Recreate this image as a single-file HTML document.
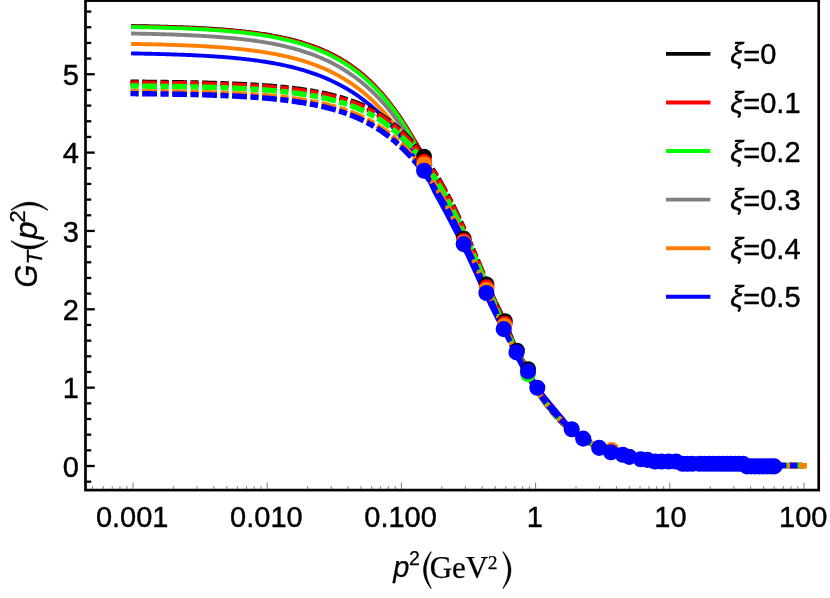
<!DOCTYPE html>
<html><head><meta charset="utf-8"><title>G_T(p^2)</title>
<style>html,body{margin:0;padding:0;background:#fff;width:830px;height:598px;overflow:hidden}</style>
</head><body>
<svg width="830" height="598" viewBox="0 0 830 598" style="display:block;position:absolute;left:0;top:0;will-change:transform">
<rect x="0" y="0" width="830" height="598" fill="#ffffff"/>
<g stroke="#444" stroke-width="0.7" fill="none">
<line x1="92.60" y1="488.80" x2="92.60" y2="486.20"/>
<line x1="103.23" y1="488.80" x2="103.23" y2="486.20"/>
<line x1="112.21" y1="488.80" x2="112.21" y2="486.20"/>
<line x1="119.99" y1="488.80" x2="119.99" y2="486.20"/>
<line x1="126.86" y1="488.80" x2="126.86" y2="486.20"/>
<line x1="133.00" y1="488.80" x2="133.00" y2="482.60"/>
<line x1="173.40" y1="488.80" x2="173.40" y2="486.20"/>
<line x1="197.03" y1="488.80" x2="197.03" y2="486.20"/>
<line x1="213.80" y1="488.80" x2="213.80" y2="486.20"/>
<line x1="226.80" y1="488.80" x2="226.80" y2="486.20"/>
<line x1="237.43" y1="488.80" x2="237.43" y2="486.20"/>
<line x1="246.41" y1="488.80" x2="246.41" y2="486.20"/>
<line x1="254.19" y1="488.80" x2="254.19" y2="486.20"/>
<line x1="261.06" y1="488.80" x2="261.06" y2="486.20"/>
<line x1="267.20" y1="488.80" x2="267.20" y2="482.60"/>
<line x1="307.60" y1="488.80" x2="307.60" y2="486.20"/>
<line x1="331.23" y1="488.80" x2="331.23" y2="486.20"/>
<line x1="348.00" y1="488.80" x2="348.00" y2="486.20"/>
<line x1="361.00" y1="488.80" x2="361.00" y2="486.20"/>
<line x1="371.63" y1="488.80" x2="371.63" y2="486.20"/>
<line x1="380.61" y1="488.80" x2="380.61" y2="486.20"/>
<line x1="388.39" y1="488.80" x2="388.39" y2="486.20"/>
<line x1="395.26" y1="488.80" x2="395.26" y2="486.20"/>
<line x1="401.40" y1="488.80" x2="401.40" y2="482.60"/>
<line x1="441.80" y1="488.80" x2="441.80" y2="486.20"/>
<line x1="465.43" y1="488.80" x2="465.43" y2="486.20"/>
<line x1="482.20" y1="488.80" x2="482.20" y2="486.20"/>
<line x1="495.20" y1="488.80" x2="495.20" y2="486.20"/>
<line x1="505.83" y1="488.80" x2="505.83" y2="486.20"/>
<line x1="514.81" y1="488.80" x2="514.81" y2="486.20"/>
<line x1="522.59" y1="488.80" x2="522.59" y2="486.20"/>
<line x1="529.46" y1="488.80" x2="529.46" y2="486.20"/>
<line x1="535.60" y1="488.80" x2="535.60" y2="482.60"/>
<line x1="576.00" y1="488.80" x2="576.00" y2="486.20"/>
<line x1="599.63" y1="488.80" x2="599.63" y2="486.20"/>
<line x1="616.40" y1="488.80" x2="616.40" y2="486.20"/>
<line x1="629.40" y1="488.80" x2="629.40" y2="486.20"/>
<line x1="640.03" y1="488.80" x2="640.03" y2="486.20"/>
<line x1="649.01" y1="488.80" x2="649.01" y2="486.20"/>
<line x1="656.79" y1="488.80" x2="656.79" y2="486.20"/>
<line x1="663.66" y1="488.80" x2="663.66" y2="486.20"/>
<line x1="669.80" y1="488.80" x2="669.80" y2="482.60"/>
<line x1="710.20" y1="488.80" x2="710.20" y2="486.20"/>
<line x1="733.83" y1="488.80" x2="733.83" y2="486.20"/>
<line x1="750.60" y1="488.80" x2="750.60" y2="486.20"/>
<line x1="763.60" y1="488.80" x2="763.60" y2="486.20"/>
<line x1="774.23" y1="488.80" x2="774.23" y2="486.20"/>
<line x1="783.21" y1="488.80" x2="783.21" y2="486.20"/>
<line x1="790.99" y1="488.80" x2="790.99" y2="486.20"/>
<line x1="797.86" y1="488.80" x2="797.86" y2="486.20"/>
<line x1="804.00" y1="488.80" x2="804.00" y2="482.60"/>
</g>
<g fill="none" stroke-width="3.9" stroke-linecap="square" stroke-linejoin="round">
<path d="M133.00,26.03 L134.50,26.05 L136.00,26.08 L137.50,26.10 L139.00,26.13 L140.50,26.16 L142.00,26.19 L143.50,26.21 L145.00,26.24 L146.50,26.27 L148.00,26.31 L149.50,26.34 L151.00,26.37 L152.50,26.41 L154.00,26.44 L155.50,26.48 L157.00,26.51 L158.50,26.55 L160.00,26.59 L161.50,26.63 L163.00,26.67 L164.50,26.71 L166.00,26.75 L167.50,26.80 L169.00,26.84 L170.50,26.89 L172.00,26.94 L173.50,26.98 L175.00,27.03 L176.50,27.08 L178.00,27.14 L179.50,27.19 L181.00,27.25 L182.50,27.30 L184.00,27.36 L185.50,27.42 L187.00,27.48 L188.50,27.55 L190.00,27.61 L191.50,27.68 L193.00,27.74 L194.50,27.81 L196.00,27.89 L197.50,27.96 L199.00,28.03 L200.50,28.11 L202.00,28.19 L203.50,28.27 L205.00,28.36 L206.50,28.44 L208.00,28.53 L209.50,28.62 L211.00,28.71 L212.50,28.81 L214.00,28.91 L215.50,29.01 L217.00,29.11 L218.50,29.21 L220.00,29.32 L221.50,29.43 L223.00,29.55 L224.50,29.66 L226.00,29.78 L227.50,29.91 L229.00,30.03 L230.50,30.16 L232.00,30.29 L233.50,30.43 L235.00,30.57 L236.50,30.71 L238.00,30.86 L239.50,31.01 L241.00,31.17 L242.50,31.33 L244.00,31.49 L245.50,31.66 L247.00,31.83 L248.50,32.01 L250.00,32.19 L251.50,32.37 L253.00,32.57 L254.50,32.76 L256.00,32.96 L257.50,33.17 L259.00,33.38 L260.50,33.60 L262.00,33.82 L263.50,34.05 L265.00,34.28 L266.50,34.52 L268.00,34.77 L269.50,35.03 L271.00,35.29 L272.50,35.55 L274.00,35.83 L275.50,36.11 L277.00,36.40 L278.50,36.69 L280.00,37.00 L281.50,37.31 L283.00,37.63 L284.50,37.96 L286.00,38.29 L287.50,38.64 L289.00,38.99 L290.50,39.36 L292.00,39.73 L293.50,40.12 L295.00,40.51 L296.50,40.91 L298.00,41.33 L299.50,41.75 L301.00,42.19 L302.50,42.64 L304.00,43.10 L305.50,43.57 L307.00,44.05 L308.50,44.55 L310.00,45.06 L311.50,45.58 L313.00,46.12 L314.50,46.67 L316.00,47.24 L317.50,47.82 L319.00,48.41 L320.50,49.02 L322.00,49.65 L323.50,50.29 L325.00,50.95 L326.50,51.63 L328.00,52.32 L329.50,53.03 L331.00,53.77 L332.50,54.52 L334.00,55.29 L335.50,56.07 L337.00,56.88 L338.50,57.72 L340.00,58.57 L341.50,59.44 L343.00,60.34 L344.50,61.26 L346.00,62.20 L347.50,63.17 L349.00,64.17 L350.50,65.18 L352.00,66.23 L353.50,67.30 L355.00,68.40 L356.50,69.52 L358.00,70.68 L359.50,71.86 L361.00,73.08 L362.50,74.32 L364.00,75.60 L365.50,76.91 L367.00,78.25 L368.50,79.62 L370.00,81.03 L371.50,82.47 L373.00,83.95 L374.50,85.46 L376.00,87.01 L377.50,88.60 L379.00,90.22 L380.50,91.89 L382.00,93.59 L383.50,95.33 L385.00,97.12 L386.50,98.94 L388.00,100.80 L389.50,102.71 L391.00,104.65 L392.50,106.64 L394.00,108.66 L395.50,110.73 L397.00,112.84 L398.50,114.99 L400.00,117.19 L401.50,119.42 L403.00,121.70 L404.50,124.02 L406.00,126.37 L407.50,128.76 L409.00,131.19 L410.50,133.66 L412.00,136.16 L413.50,138.68 L415.00,141.23 L416.50,143.80 L418.00,146.37 L419.50,148.95 L421.00,151.52 L422.50,154.04 L424.00,156.45 L425.50,159.55 L427.00,162.71 L428.50,165.87 L430.00,169.02 L431.50,172.16 L433.00,175.30 L434.50,178.43 L436.00,181.56 L437.50,184.68 L439.00,187.80 L440.50,190.91 L442.00,194.02 L443.50,197.12 L445.00,200.22 L446.50,203.32 L448.00,206.41 L449.50,209.49 L451.00,212.57 L452.50,215.65 L454.00,218.72 L455.50,221.79 L457.00,224.86 L458.50,227.92 L460.00,230.98 L461.50,234.03 L463.00,237.08 L464.50,240.12 L466.00,243.16 L467.50,246.18 L469.00,249.20 L470.50,252.21 L472.00,255.21 L473.50,258.20 L475.00,261.20 L476.50,264.18 L478.00,267.17 L479.50,270.16 L481.00,273.14 L482.50,276.13 L484.00,279.11 L485.50,282.10 L487.00,285.10 L488.50,288.06 L490.00,290.98 L491.50,293.89 L493.00,296.78 L494.50,299.67 L496.00,302.58 L497.50,305.51 L499.00,308.48 L500.50,311.50 L502.00,314.59 L503.50,317.75 L505.00,321.00 L506.50,324.44 L508.00,328.12 L509.50,331.93 L511.00,335.80 L512.50,339.63 L514.00,343.34 L515.50,346.82 L517.00,350.00 L518.50,352.85 L520.00,355.45 L521.50,357.90 L523.00,360.26 L524.50,362.62 L526.00,365.05 L527.50,367.62 L529.00,370.45 L530.50,373.59 L532.00,376.91 L533.50,380.26 L535.00,383.45 L536.50,386.34 L538.00,388.69 L539.50,390.76 L541.00,392.77 L542.50,394.73 L544.00,396.64 L545.50,398.52 L547.00,400.36 L548.50,402.18 L550.00,403.98 L551.50,405.76 L553.00,407.53 L554.50,409.29 L556.00,411.05 L557.50,412.80 L559.00,414.55 L560.50,416.30 L562.00,418.04 L563.50,419.79 L565.00,421.53 L566.50,423.26 L568.00,424.99 L569.50,426.70 L571.00,428.41 L572.50,429.95 L574.00,431.32 L575.50,432.63 L577.00,433.90 L578.50,435.12 L580.00,436.29 L581.50,437.40 L583.00,438.46 L584.50,439.48 L586.00,440.48 L587.50,441.45 L589.00,442.39 L590.50,443.30 L592.00,444.18 L593.50,445.03 L595.00,445.84 L596.50,446.61 L598.00,447.34 L599.50,448.03 L601.00,448.69 L602.50,449.32 L604.00,449.93 L605.50,450.50 L607.00,451.04 L608.50,451.55 L610.00,452.03 L611.50,452.47 L613.00,452.88 L614.50,453.26 L616.00,453.61 L617.50,453.95 L619.00,454.29 L620.50,454.63 L622.00,454.98 L623.50,455.35 L625.00,455.75 L626.50,456.17 L628.00,456.57 L629.50,456.95 L631.00,457.31 L632.50,457.67 L634.00,458.03 L635.50,458.36 L637.00,458.68 L638.50,458.96 L640.00,459.19 L641.50,459.38 L643.00,459.53 L644.50,459.67 L646.00,459.79 L647.50,459.91 L649.00,460.03 L650.50,460.15 L652.00,460.27 L653.50,460.39 L655.00,460.50 L656.50,460.61 L658.00,460.73 L659.50,460.84 L661.00,460.94 L662.50,461.05 L664.00,461.16 L665.50,461.27 L667.00,461.37 L668.50,461.48 L670.00,461.59 L671.50,461.70 L673.00,461.81 L674.50,461.92 L676.00,462.04 L677.50,462.16 L679.00,462.27 L680.50,462.39 L682.00,462.50 L683.50,462.62 L685.00,462.73 L686.50,462.83 L688.00,462.94 L689.50,463.04 L691.00,463.14 L692.50,463.23 L694.00,463.32 L695.50,463.40 L697.00,463.47 L698.50,463.54 L700.00,463.60 L701.50,463.65 L703.00,463.71 L704.50,463.75 L706.00,463.80 L707.50,463.85 L709.00,463.89 L710.50,463.93 L712.00,463.97 L713.50,464.00 L715.00,464.04 L716.50,464.07 L718.00,464.11 L719.50,464.14 L721.00,464.17 L722.50,464.20 L724.00,464.23 L725.50,464.27 L727.00,464.30 L728.50,464.33 L730.00,464.36 L731.50,464.39 L733.00,464.43 L734.50,464.46 L736.00,464.50 L737.50,464.53 L739.00,464.57 L740.50,464.61 L742.00,464.66 L743.50,464.70 L745.00,464.75 L746.50,464.80 L748.00,464.85 L749.50,464.90 L751.00,464.95 L752.50,465.00 L754.00,465.06 L755.50,465.11 L757.00,465.16 L758.50,465.21 L760.00,465.26 L761.50,465.31 L763.00,465.36 L764.50,465.40 L766.00,465.44 L767.50,465.48 L769.00,465.51 L770.50,465.54 L772.00,465.57 L773.50,465.59 L775.00,465.61 L776.50,465.63 L778.00,465.65 L779.50,465.67 L781.00,465.69 L782.50,465.70 L784.00,465.72 L785.50,465.74 L787.00,465.75 L788.50,465.77 L790.00,465.78 L791.50,465.80 L793.00,465.81 L794.50,465.82 L796.00,465.83 L797.50,465.85 L799.00,465.86 L800.50,465.86 L802.00,465.87 L803.50,465.88 L804.00,465.88" stroke="#000000"/>
<path d="M133.00,26.54 L134.50,26.57 L136.00,26.59 L137.50,26.62 L139.00,26.65 L140.50,26.67 L142.00,26.70 L143.50,26.73 L145.00,26.76 L146.50,26.79 L148.00,26.82 L149.50,26.85 L151.00,26.89 L152.50,26.92 L154.00,26.95 L155.50,26.99 L157.00,27.03 L158.50,27.06 L160.00,27.10 L161.50,27.14 L163.00,27.18 L164.50,27.22 L166.00,27.27 L167.50,27.31 L169.00,27.35 L170.50,27.40 L172.00,27.45 L173.50,27.50 L175.00,27.55 L176.50,27.60 L178.00,27.65 L179.50,27.70 L181.00,27.76 L182.50,27.81 L184.00,27.87 L185.50,27.93 L187.00,27.99 L188.50,28.06 L190.00,28.12 L191.50,28.19 L193.00,28.25 L194.50,28.32 L196.00,28.39 L197.50,28.47 L199.00,28.54 L200.50,28.62 L202.00,28.70 L203.50,28.78 L205.00,28.86 L206.50,28.95 L208.00,29.03 L209.50,29.12 L211.00,29.22 L212.50,29.31 L214.00,29.41 L215.50,29.51 L217.00,29.61 L218.50,29.71 L220.00,29.82 L221.50,29.93 L223.00,30.04 L224.50,30.16 L226.00,30.28 L227.50,30.40 L229.00,30.53 L230.50,30.66 L232.00,30.79 L233.50,30.92 L235.00,31.06 L236.50,31.21 L238.00,31.35 L239.50,31.50 L241.00,31.66 L242.50,31.81 L244.00,31.98 L245.50,32.14 L247.00,32.31 L248.50,32.49 L250.00,32.67 L251.50,32.85 L253.00,33.04 L254.50,33.24 L256.00,33.44 L257.50,33.64 L259.00,33.85 L260.50,34.07 L262.00,34.29 L263.50,34.51 L265.00,34.75 L266.50,34.98 L268.00,35.23 L269.50,35.48 L271.00,35.74 L272.50,36.00 L274.00,36.28 L275.50,36.56 L277.00,36.85 L278.50,37.14 L280.00,37.45 L281.50,37.76 L283.00,38.08 L284.50,38.41 L286.00,38.74 L287.50,39.09 L289.00,39.44 L290.50,39.81 L292.00,40.18 L293.50,40.57 L295.00,40.96 L296.50,41.36 L298.00,41.78 L299.50,42.20 L301.00,42.64 L302.50,43.09 L304.00,43.55 L305.50,44.02 L307.00,44.50 L308.50,45.00 L310.00,45.51 L311.50,46.03 L313.00,46.57 L314.50,47.12 L316.00,47.69 L317.50,48.27 L319.00,48.86 L320.50,49.47 L322.00,50.10 L323.50,50.74 L325.00,51.40 L326.50,52.08 L328.00,52.77 L329.50,53.48 L331.00,54.22 L332.50,54.97 L334.00,55.74 L335.50,56.52 L337.00,57.33 L338.50,58.17 L340.00,59.02 L341.50,59.89 L343.00,60.79 L344.50,61.71 L346.00,62.65 L347.50,63.62 L349.00,64.62 L350.50,65.63 L352.00,66.68 L353.50,67.75 L355.00,68.85 L356.50,69.97 L358.00,71.13 L359.50,72.31 L361.00,73.53 L362.50,74.77 L364.00,76.05 L365.50,77.36 L367.00,78.70 L368.50,80.07 L370.00,81.48 L371.50,82.92 L373.00,84.40 L374.50,85.91 L376.00,87.46 L377.50,89.05 L379.00,90.67 L380.50,92.34 L382.00,94.04 L383.50,95.78 L385.00,97.57 L386.50,99.39 L388.00,101.25 L389.50,103.16 L391.00,105.10 L392.50,107.09 L394.00,109.11 L395.50,111.18 L397.00,113.29 L398.50,115.44 L400.00,117.64 L401.50,119.87 L403.00,122.15 L404.50,124.47 L406.00,126.82 L407.50,129.21 L409.00,131.64 L410.50,134.11 L412.00,136.61 L413.50,139.13 L415.00,141.68 L416.50,144.25 L418.00,146.82 L419.50,149.40 L421.00,151.97 L422.50,154.68 L424.00,157.60 L425.50,160.71 L427.00,163.85 L428.50,167.01 L430.00,170.16 L431.50,173.32 L433.00,176.46 L434.50,179.59 L436.00,182.69 L437.50,185.77 L439.00,188.86 L440.50,191.94 L442.00,195.02 L443.50,198.10 L445.00,201.17 L446.50,204.24 L448.00,207.31 L449.50,210.37 L451.00,213.44 L452.50,216.50 L454.00,219.56 L455.50,222.61 L457.00,225.67 L458.50,228.72 L460.00,231.77 L461.50,234.82 L463.00,237.86 L464.50,240.90 L466.00,243.94 L467.50,246.98 L469.00,250.00 L470.50,253.03 L472.00,256.05 L473.50,259.07 L475.00,262.09 L476.50,265.11 L478.00,268.12 L479.50,271.13 L481.00,274.14 L482.50,277.15 L484.00,280.16 L485.50,283.17 L487.00,286.18 L488.50,289.16 L490.00,292.10 L491.50,295.01 L493.00,297.92 L494.50,300.82 L496.00,303.72 L497.50,306.65 L499.00,309.62 L500.50,312.62 L502.00,315.68 L503.50,318.80 L505.00,322.00 L506.50,325.37 L508.00,328.95 L509.50,332.67 L511.00,336.43 L512.50,340.15 L514.00,343.79 L515.50,347.27 L517.00,350.45 L518.50,353.30 L520.00,355.90 L521.50,358.35 L523.00,360.71 L524.50,363.07 L526.00,365.50 L527.50,368.07 L529.00,370.90 L530.50,374.04 L532.00,377.36 L533.50,380.71 L535.00,383.90 L536.50,386.79 L538.00,389.14 L539.50,391.21 L541.00,393.22 L542.50,395.18 L544.00,397.09 L545.50,398.97 L547.00,400.81 L548.50,402.63 L550.00,404.43 L551.50,406.21 L553.00,407.98 L554.50,409.74 L556.00,411.50 L557.50,413.25 L559.00,415.00 L560.50,416.75 L562.00,418.49 L563.50,420.24 L565.00,421.98 L566.50,423.71 L568.00,425.44 L569.50,427.15 L571.00,428.86 L572.50,430.40 L574.00,431.77 L575.50,433.08 L577.00,434.35 L578.50,435.57 L580.00,436.74 L581.50,437.85 L583.00,438.91 L584.50,439.93 L586.00,440.93 L587.50,441.90 L589.00,442.84 L590.50,443.75 L592.00,444.63 L593.50,445.48 L595.00,446.29 L596.50,447.06 L598.00,447.79 L599.50,448.48 L601.00,449.14 L602.50,449.77 L604.00,450.38 L605.50,450.95 L607.00,451.49 L608.50,452.00 L610.00,452.48 L611.50,452.92 L613.00,453.33 L614.50,453.71 L616.00,454.06 L617.50,454.40 L619.00,454.74 L620.50,455.08 L622.00,455.43 L623.50,455.80 L625.00,456.20 L626.50,456.62 L628.00,457.02 L629.50,457.40 L631.00,457.76 L632.50,458.12 L634.00,458.48 L635.50,458.81 L637.00,459.13 L638.50,459.41 L640.00,459.64 L641.50,459.83 L643.00,459.98 L644.50,460.12 L646.00,460.24 L647.50,460.36 L649.00,460.48 L650.50,460.60 L652.00,460.72 L653.50,460.84 L655.00,460.95 L656.50,461.06 L658.00,461.18 L659.50,461.29 L661.00,461.39 L662.50,461.50 L664.00,461.61 L665.50,461.72 L667.00,461.82 L668.50,461.93 L670.00,462.04 L671.50,462.15 L673.00,462.26 L674.50,462.37 L676.00,462.49 L677.50,462.61 L679.00,462.72 L680.50,462.84 L682.00,462.95 L683.50,463.07 L685.00,463.18 L686.50,463.28 L688.00,463.39 L689.50,463.49 L691.00,463.59 L692.50,463.68 L694.00,463.77 L695.50,463.85 L697.00,463.92 L698.50,463.99 L700.00,464.05 L701.50,464.10 L703.00,464.16 L704.50,464.20 L706.00,464.25 L707.50,464.30 L709.00,464.34 L710.50,464.38 L712.00,464.42 L713.50,464.45 L715.00,464.49 L716.50,464.52 L718.00,464.56 L719.50,464.59 L721.00,464.62 L722.50,464.65 L724.00,464.68 L725.50,464.72 L727.00,464.75 L728.50,464.78 L730.00,464.81 L731.50,464.84 L733.00,464.88 L734.50,464.91 L736.00,464.95 L737.50,464.98 L739.00,465.02 L740.50,465.06 L742.00,465.11 L743.50,465.15 L745.00,465.20 L746.50,465.25 L748.00,465.30 L749.50,465.35 L751.00,465.40 L752.50,465.45 L754.00,465.51 L755.50,465.56 L757.00,465.61 L758.50,465.66 L760.00,465.71 L761.50,465.76 L763.00,465.81 L764.50,465.85 L766.00,465.89 L767.50,465.93 L769.00,465.96 L770.50,465.99 L772.00,466.02 L773.50,466.04 L775.00,466.06 L776.50,466.08 L778.00,466.10 L779.50,466.12 L781.00,466.14 L782.50,466.15 L784.00,466.17 L785.50,466.19 L787.00,466.20 L788.50,466.22 L790.00,466.23 L791.50,466.25 L793.00,466.26 L794.50,466.27 L796.00,466.28 L797.50,466.30 L799.00,466.31 L800.50,466.31 L802.00,466.32 L803.50,466.33 L804.00,466.33" stroke="#ff0000"/>
<path d="M133.00,27.05 L134.50,27.07 L136.00,27.10 L137.50,27.13 L139.00,27.15 L140.50,27.18 L142.00,27.21 L143.50,27.24 L145.00,27.27 L146.50,27.31 L148.00,27.34 L149.50,27.37 L151.00,27.41 L152.50,27.44 L154.00,27.48 L155.50,27.52 L157.00,27.55 L158.50,27.59 L160.00,27.63 L161.50,27.67 L163.00,27.72 L164.50,27.76 L166.00,27.80 L167.50,27.85 L169.00,27.90 L170.50,27.94 L172.00,27.99 L173.50,28.04 L175.00,28.10 L176.50,28.15 L178.00,28.20 L179.50,28.26 L181.00,28.32 L182.50,28.38 L184.00,28.44 L185.50,28.50 L187.00,28.56 L188.50,28.63 L190.00,28.69 L191.50,28.76 L193.00,28.83 L194.50,28.91 L196.00,28.98 L197.50,29.06 L199.00,29.14 L200.50,29.22 L202.00,29.30 L203.50,29.38 L205.00,29.47 L206.50,29.56 L208.00,29.65 L209.50,29.74 L211.00,29.84 L212.50,29.94 L214.00,30.04 L215.50,30.14 L217.00,30.25 L218.50,30.36 L220.00,30.47 L221.50,30.59 L223.00,30.71 L224.50,30.83 L226.00,30.95 L227.50,31.08 L229.00,31.21 L230.50,31.34 L232.00,31.48 L233.50,31.62 L235.00,31.77 L236.50,31.92 L238.00,32.07 L239.50,32.23 L241.00,32.39 L242.50,32.55 L244.00,32.72 L245.50,32.90 L247.00,33.07 L248.50,33.26 L250.00,33.44 L251.50,33.64 L253.00,33.83 L254.50,34.04 L256.00,34.24 L257.50,34.46 L259.00,34.68 L260.50,34.90 L262.00,35.13 L263.50,35.37 L265.00,35.61 L266.50,35.86 L268.00,36.11 L269.50,36.38 L271.00,36.64 L272.50,36.92 L274.00,37.20 L275.50,37.49 L277.00,37.79 L278.50,38.10 L280.00,38.41 L281.50,38.73 L283.00,39.06 L284.50,39.40 L286.00,39.75 L287.50,40.10 L289.00,40.47 L290.50,40.84 L292.00,41.23 L293.50,41.62 L295.00,42.02 L296.50,42.44 L298.00,42.86 L299.50,43.30 L301.00,43.75 L302.50,44.21 L304.00,44.68 L305.50,45.16 L307.00,45.66 L308.50,46.17 L310.00,46.69 L311.50,47.22 L313.00,47.77 L314.50,48.34 L316.00,48.91 L317.50,49.51 L319.00,50.11 L320.50,50.74 L322.00,51.37 L323.50,52.03 L325.00,52.70 L326.50,53.39 L328.00,54.10 L329.50,54.82 L331.00,55.56 L332.50,56.33 L334.00,57.11 L335.50,57.91 L337.00,58.73 L338.50,59.57 L340.00,60.43 L341.50,61.32 L343.00,62.22 L344.50,63.15 L346.00,64.11 L347.50,65.08 L349.00,66.08 L350.50,67.11 L352.00,68.16 L353.50,69.24 L355.00,70.34 L356.50,71.47 L358.00,72.63 L359.50,73.82 L361.00,75.03 L362.50,76.28 L364.00,77.55 L365.50,78.86 L367.00,80.19 L368.50,81.56 L370.00,82.97 L371.50,84.40 L373.00,85.87 L374.50,87.37 L376.00,88.91 L377.50,90.48 L379.00,92.09 L380.50,93.74 L382.00,95.42 L383.50,97.14 L385.00,98.90 L386.50,100.70 L388.00,102.55 L389.50,104.44 L391.00,106.39 L392.50,108.38 L394.00,110.42 L395.50,112.51 L397.00,114.64 L398.50,116.83 L400.00,119.07 L401.50,121.35 L403.00,123.69 L404.50,126.07 L406.00,128.50 L407.50,130.98 L409.00,133.51 L410.50,136.08 L412.00,138.70 L413.50,141.36 L415.00,144.07 L416.50,146.82 L418.00,149.60 L419.50,152.43 L421.00,155.29 L422.50,158.18 L424.00,161.10 L425.50,164.10 L427.00,167.18 L428.50,170.33 L430.00,173.51 L431.50,176.69 L433.00,179.85 L434.50,182.96 L436.00,185.99 L437.50,188.97 L439.00,191.95 L440.50,194.94 L442.00,197.93 L443.50,200.93 L445.00,203.93 L446.50,206.93 L448.00,209.94 L449.50,212.95 L451.00,215.96 L452.50,218.97 L454.00,221.99 L455.50,225.01 L457.00,228.03 L458.50,231.06 L460.00,234.09 L461.50,237.12 L463.00,240.15 L464.50,243.18 L466.00,246.23 L467.50,249.29 L469.00,252.36 L470.50,255.44 L472.00,258.52 L473.50,261.61 L475.00,264.70 L476.50,267.79 L478.00,270.89 L479.50,273.98 L481.00,277.07 L482.50,280.15 L484.00,283.23 L485.50,286.29 L487.00,289.35 L488.50,292.37 L490.00,295.35 L491.50,298.30 L493.00,301.24 L494.50,304.16 L496.00,307.08 L497.50,310.00 L499.00,312.93 L500.50,315.87 L502.00,318.85 L503.50,321.85 L505.00,324.90 L506.50,328.07 L508.00,331.39 L509.50,334.80 L511.00,338.24 L512.50,341.66 L514.00,344.99 L515.50,348.17 L517.00,351.15 L518.50,353.88 L520.00,356.43 L521.50,358.85 L523.00,361.21 L524.50,363.58 L526.00,366.00 L527.50,368.55 L529.00,371.29 L530.50,374.30 L532.00,377.45 L533.50,380.60 L535.00,383.63 L536.50,386.38 L538.00,388.66 L539.50,390.68 L541.00,392.65 L542.50,394.58 L544.00,396.47 L545.50,398.33 L547.00,400.17 L548.50,401.98 L550.00,403.78 L551.50,405.57 L553.00,407.35 L554.50,409.12 L556.00,410.89 L557.50,412.66 L559.00,414.43 L560.50,416.20 L562.00,417.97 L563.50,419.73 L565.00,421.48 L566.50,423.23 L568.00,424.97 L569.50,426.70 L571.00,428.41 L572.50,429.95 L574.00,431.32 L575.50,432.63 L577.00,433.90 L578.50,435.12 L580.00,436.29 L581.50,437.40 L583.00,438.46 L584.50,439.48 L586.00,440.48 L587.50,441.45 L589.00,442.39 L590.50,443.30 L592.00,444.18 L593.50,445.03 L595.00,445.84 L596.50,446.61 L598.00,447.34 L599.50,448.03 L601.00,448.69 L602.50,449.32 L604.00,449.93 L605.50,450.50 L607.00,451.04 L608.50,451.55 L610.00,452.03 L611.50,452.47 L613.00,452.88 L614.50,453.26 L616.00,453.61 L617.50,453.95 L619.00,454.29 L620.50,454.63 L622.00,454.98 L623.50,455.35 L625.00,455.75 L626.50,456.17 L628.00,456.57 L629.50,456.95 L631.00,457.31 L632.50,457.67 L634.00,458.03 L635.50,458.36 L637.00,458.68 L638.50,458.96 L640.00,459.19 L641.50,459.38 L643.00,459.53 L644.50,459.67 L646.00,459.79 L647.50,459.91 L649.00,460.03 L650.50,460.15 L652.00,460.27 L653.50,460.39 L655.00,460.50 L656.50,460.61 L658.00,460.73 L659.50,460.84 L661.00,460.94 L662.50,461.05 L664.00,461.16 L665.50,461.27 L667.00,461.37 L668.50,461.48 L670.00,461.59 L671.50,461.70 L673.00,461.81 L674.50,461.92 L676.00,462.04 L677.50,462.16 L679.00,462.27 L680.50,462.39 L682.00,462.50 L683.50,462.62 L685.00,462.73 L686.50,462.83 L688.00,462.94 L689.50,463.04 L691.00,463.14 L692.50,463.23 L694.00,463.32 L695.50,463.40 L697.00,463.47 L698.50,463.54 L700.00,463.60 L701.50,463.65 L703.00,463.71 L704.50,463.75 L706.00,463.80 L707.50,463.85 L709.00,463.89 L710.50,463.93 L712.00,463.97 L713.50,464.00 L715.00,464.04 L716.50,464.07 L718.00,464.11 L719.50,464.14 L721.00,464.17 L722.50,464.20 L724.00,464.23 L725.50,464.27 L727.00,464.30 L728.50,464.33 L730.00,464.36 L731.50,464.39 L733.00,464.43 L734.50,464.46 L736.00,464.50 L737.50,464.53 L739.00,464.57 L740.50,464.61 L742.00,464.66 L743.50,464.70 L745.00,464.75 L746.50,464.80 L748.00,464.85 L749.50,464.90 L751.00,464.95 L752.50,465.00 L754.00,465.06 L755.50,465.11 L757.00,465.16 L758.50,465.21 L760.00,465.26 L761.50,465.31 L763.00,465.36 L764.50,465.40 L766.00,465.44 L767.50,465.48 L769.00,465.51 L770.50,465.54 L772.00,465.57 L773.50,465.59 L775.00,465.61 L776.50,465.63 L778.00,465.65 L779.50,465.67 L781.00,465.69 L782.50,465.70 L784.00,465.72 L785.50,465.74 L787.00,465.75 L788.50,465.77 L790.00,465.78 L791.50,465.80 L793.00,465.81 L794.50,465.82 L796.00,465.83 L797.50,465.85 L799.00,465.86 L800.50,465.86 L802.00,465.87 L803.50,465.88 L804.00,465.88" stroke="#00ff00"/>
<path d="M133.00,33.55 L134.50,33.57 L136.00,33.60 L137.50,33.63 L139.00,33.66 L140.50,33.69 L142.00,33.72 L143.50,33.75 L145.00,33.78 L146.50,33.81 L148.00,33.85 L149.50,33.88 L151.00,33.92 L152.50,33.95 L154.00,33.99 L155.50,34.03 L157.00,34.07 L158.50,34.11 L160.00,34.15 L161.50,34.19 L163.00,34.24 L164.50,34.28 L166.00,34.33 L167.50,34.37 L169.00,34.42 L170.50,34.47 L172.00,34.52 L173.50,34.57 L175.00,34.63 L176.50,34.68 L178.00,34.74 L179.50,34.80 L181.00,34.86 L182.50,34.92 L184.00,34.98 L185.50,35.04 L187.00,35.11 L188.50,35.18 L190.00,35.25 L191.50,35.32 L193.00,35.39 L194.50,35.46 L196.00,35.54 L197.50,35.62 L199.00,35.70 L200.50,35.78 L202.00,35.87 L203.50,35.95 L205.00,36.04 L206.50,36.14 L208.00,36.23 L209.50,36.33 L211.00,36.43 L212.50,36.53 L214.00,36.63 L215.50,36.74 L217.00,36.85 L218.50,36.96 L220.00,37.08 L221.50,37.19 L223.00,37.32 L224.50,37.44 L226.00,37.57 L227.50,37.70 L229.00,37.83 L230.50,37.97 L232.00,38.11 L233.50,38.26 L235.00,38.41 L236.50,38.56 L238.00,38.72 L239.50,38.88 L241.00,39.04 L242.50,39.21 L244.00,39.39 L245.50,39.56 L247.00,39.75 L248.50,39.94 L250.00,40.13 L251.50,40.32 L253.00,40.53 L254.50,40.73 L256.00,40.95 L257.50,41.17 L259.00,41.39 L260.50,41.62 L262.00,41.86 L263.50,42.10 L265.00,42.35 L266.50,42.60 L268.00,42.86 L269.50,43.13 L271.00,43.40 L272.50,43.68 L274.00,43.97 L275.50,44.27 L277.00,44.57 L278.50,44.88 L280.00,45.20 L281.50,45.53 L283.00,45.87 L284.50,46.21 L286.00,46.56 L287.50,46.93 L289.00,47.30 L290.50,47.68 L292.00,48.07 L293.50,48.47 L295.00,48.88 L296.50,49.30 L298.00,49.73 L299.50,50.18 L301.00,50.63 L302.50,51.10 L304.00,51.57 L305.50,52.06 L307.00,52.56 L308.50,53.08 L310.00,53.61 L311.50,54.15 L313.00,54.70 L314.50,55.27 L316.00,55.85 L317.50,56.45 L319.00,57.06 L320.50,57.68 L322.00,58.33 L323.50,58.99 L325.00,59.66 L326.50,60.35 L328.00,61.06 L329.50,61.79 L331.00,62.53 L332.50,63.29 L334.00,64.07 L335.50,64.87 L337.00,65.69 L338.50,66.53 L340.00,67.39 L341.50,68.27 L343.00,69.18 L344.50,70.10 L346.00,71.05 L347.50,72.01 L349.00,73.01 L350.50,74.02 L352.00,75.06 L353.50,76.13 L355.00,77.22 L356.50,78.33 L358.00,79.47 L359.50,80.64 L361.00,81.83 L362.50,83.06 L364.00,84.31 L365.50,85.59 L367.00,86.90 L368.50,88.23 L370.00,89.60 L371.50,91.00 L373.00,92.43 L374.50,93.89 L376.00,95.39 L377.50,96.91 L379.00,98.47 L380.50,100.07 L382.00,101.69 L383.50,103.36 L385.00,105.05 L386.50,106.79 L388.00,108.58 L389.50,110.41 L391.00,112.29 L392.50,114.23 L394.00,116.21 L395.50,118.25 L397.00,120.33 L398.50,122.46 L400.00,124.65 L401.50,126.88 L403.00,129.17 L404.50,131.50 L406.00,133.89 L407.50,136.32 L409.00,138.81 L410.50,141.34 L412.00,143.93 L413.50,146.56 L415.00,149.24 L416.50,151.96 L418.00,154.74 L419.50,157.55 L421.00,160.42 L422.50,163.32 L424.00,166.27 L425.50,169.10 L427.00,172.11 L428.50,175.24 L430.00,178.46 L431.50,181.69 L433.00,184.87 L434.50,187.95 L436.00,190.87 L437.50,193.69 L439.00,196.53 L440.50,199.38 L442.00,202.25 L443.50,205.12 L445.00,208.01 L446.50,210.92 L448.00,213.83 L449.50,216.75 L451.00,219.69 L452.50,222.63 L454.00,225.59 L455.50,228.56 L457.00,231.53 L458.50,234.52 L460.00,237.52 L461.50,240.52 L463.00,243.53 L464.50,246.56 L466.00,249.62 L467.50,252.72 L469.00,255.84 L470.50,259.00 L472.00,262.17 L473.50,265.36 L475.00,268.56 L476.50,271.77 L478.00,274.99 L479.50,278.19 L481.00,281.40 L482.50,284.59 L484.00,287.76 L485.50,290.91 L487.00,294.03 L488.50,297.11 L490.00,300.16 L491.50,303.17 L493.00,306.15 L494.50,309.11 L496.00,312.04 L497.50,314.94 L499.00,317.82 L500.50,320.69 L502.00,323.54 L503.50,326.37 L505.00,329.20 L506.50,332.07 L508.00,335.00 L509.50,337.96 L511.00,340.93 L512.50,343.89 L514.00,346.80 L515.50,349.66 L517.00,352.42 L518.50,355.02 L520.00,357.50 L521.50,359.90 L523.00,362.27 L524.50,364.64 L526.00,367.05 L527.50,369.56 L529.00,372.23 L530.50,375.08 L532.00,378.04 L533.50,380.98 L535.00,383.82 L536.50,386.43 L538.00,388.63 L539.50,390.60 L541.00,392.53 L542.50,394.42 L544.00,396.28 L545.50,398.13 L547.00,399.95 L548.50,401.76 L550.00,403.56 L551.50,405.36 L553.00,407.15 L554.50,408.94 L556.00,410.73 L557.50,412.52 L559.00,414.31 L560.50,416.09 L562.00,417.88 L563.50,419.66 L565.00,421.44 L566.50,423.21 L568.00,424.96 L569.50,426.69 L571.00,428.41 L572.50,429.95 L574.00,431.32 L575.50,432.63 L577.00,433.90 L578.50,435.12 L580.00,436.29 L581.50,437.40 L583.00,438.46 L584.50,439.48 L586.00,440.48 L587.50,441.45 L589.00,442.39 L590.50,443.30 L592.00,444.18 L593.50,445.03 L595.00,445.84 L596.50,446.61 L598.00,447.34 L599.50,448.03 L601.00,448.69 L602.50,449.32 L604.00,449.93 L605.50,450.50 L607.00,451.04 L608.50,451.55 L610.00,452.03 L611.50,452.47 L613.00,452.88 L614.50,453.26 L616.00,453.61 L617.50,453.95 L619.00,454.29 L620.50,454.63 L622.00,454.98 L623.50,455.35 L625.00,455.75 L626.50,456.17 L628.00,456.57 L629.50,456.95 L631.00,457.31 L632.50,457.67 L634.00,458.03 L635.50,458.36 L637.00,458.68 L638.50,458.96 L640.00,459.19 L641.50,459.38 L643.00,459.53 L644.50,459.67 L646.00,459.79 L647.50,459.91 L649.00,460.03 L650.50,460.15 L652.00,460.27 L653.50,460.39 L655.00,460.50 L656.50,460.61 L658.00,460.73 L659.50,460.84 L661.00,460.94 L662.50,461.05 L664.00,461.16 L665.50,461.27 L667.00,461.37 L668.50,461.48 L670.00,461.59 L671.50,461.70 L673.00,461.81 L674.50,461.92 L676.00,462.04 L677.50,462.16 L679.00,462.27 L680.50,462.39 L682.00,462.50 L683.50,462.62 L685.00,462.73 L686.50,462.83 L688.00,462.94 L689.50,463.04 L691.00,463.14 L692.50,463.23 L694.00,463.32 L695.50,463.40 L697.00,463.47 L698.50,463.54 L700.00,463.60 L701.50,463.65 L703.00,463.71 L704.50,463.75 L706.00,463.80 L707.50,463.85 L709.00,463.89 L710.50,463.93 L712.00,463.97 L713.50,464.00 L715.00,464.04 L716.50,464.07 L718.00,464.11 L719.50,464.14 L721.00,464.17 L722.50,464.20 L724.00,464.23 L725.50,464.27 L727.00,464.30 L728.50,464.33 L730.00,464.36 L731.50,464.39 L733.00,464.43 L734.50,464.46 L736.00,464.50 L737.50,464.53 L739.00,464.57 L740.50,464.61 L742.00,464.66 L743.50,464.70 L745.00,464.75 L746.50,464.80 L748.00,464.85 L749.50,464.90 L751.00,464.95 L752.50,465.00 L754.00,465.06 L755.50,465.11 L757.00,465.16 L758.50,465.21 L760.00,465.26 L761.50,465.31 L763.00,465.36 L764.50,465.40 L766.00,465.44 L767.50,465.48 L769.00,465.51 L770.50,465.54 L772.00,465.57 L773.50,465.59 L775.00,465.61 L776.50,465.63 L778.00,465.65 L779.50,465.67 L781.00,465.69 L782.50,465.70 L784.00,465.72 L785.50,465.74 L787.00,465.75 L788.50,465.77 L790.00,465.78 L791.50,465.80 L793.00,465.81 L794.50,465.82 L796.00,465.83 L797.50,465.85 L799.00,465.86 L800.50,465.86 L802.00,465.87 L803.50,465.88 L804.00,465.88" stroke="#808080"/>
<path d="M133.00,43.95 L134.50,43.98 L136.00,44.01 L137.50,44.03 L139.00,44.06 L140.50,44.09 L142.00,44.12 L143.50,44.15 L145.00,44.18 L146.50,44.21 L148.00,44.24 L149.50,44.27 L151.00,44.31 L152.50,44.34 L154.00,44.38 L155.50,44.41 L157.00,44.45 L158.50,44.49 L160.00,44.53 L161.50,44.57 L163.00,44.61 L164.50,44.65 L166.00,44.69 L167.50,44.74 L169.00,44.78 L170.50,44.83 L172.00,44.88 L173.50,44.93 L175.00,44.98 L176.50,45.03 L178.00,45.09 L179.50,45.14 L181.00,45.20 L182.50,45.25 L184.00,45.31 L185.50,45.37 L187.00,45.44 L188.50,45.50 L190.00,45.57 L191.50,45.63 L193.00,45.70 L194.50,45.77 L196.00,45.85 L197.50,45.92 L199.00,46.00 L200.50,46.08 L202.00,46.16 L203.50,46.24 L205.00,46.32 L206.50,46.41 L208.00,46.50 L209.50,46.59 L211.00,46.69 L212.50,46.78 L214.00,46.88 L215.50,46.98 L217.00,47.09 L218.50,47.19 L220.00,47.30 L221.50,47.42 L223.00,47.53 L224.50,47.65 L226.00,47.77 L227.50,47.90 L229.00,48.03 L230.50,48.16 L232.00,48.29 L233.50,48.43 L235.00,48.57 L236.50,48.72 L238.00,48.87 L239.50,49.02 L241.00,49.18 L242.50,49.34 L244.00,49.50 L245.50,49.67 L247.00,49.85 L248.50,50.03 L250.00,50.21 L251.50,50.40 L253.00,50.59 L254.50,50.79 L256.00,50.99 L257.50,51.20 L259.00,51.41 L260.50,51.63 L262.00,51.86 L263.50,52.09 L265.00,52.32 L266.50,52.57 L268.00,52.82 L269.50,53.07 L271.00,53.33 L272.50,53.60 L274.00,53.88 L275.50,54.16 L277.00,54.45 L278.50,54.75 L280.00,55.06 L281.50,55.37 L283.00,55.69 L284.50,56.02 L286.00,56.36 L287.50,56.71 L289.00,57.06 L290.50,57.43 L292.00,57.80 L293.50,58.19 L295.00,58.58 L296.50,58.99 L298.00,59.40 L299.50,59.83 L301.00,60.26 L302.50,60.71 L304.00,61.17 L305.50,61.64 L307.00,62.12 L308.50,62.62 L310.00,63.13 L311.50,63.65 L313.00,64.18 L314.50,64.73 L316.00,65.29 L317.50,65.87 L319.00,66.46 L320.50,67.07 L322.00,67.69 L323.50,68.32 L325.00,68.98 L326.50,69.65 L328.00,70.33 L329.50,71.04 L331.00,71.76 L332.50,72.50 L334.00,73.26 L335.50,74.03 L337.00,74.83 L338.50,75.65 L340.00,76.49 L341.50,77.34 L343.00,78.22 L344.50,79.12 L346.00,80.05 L347.50,80.99 L349.00,81.96 L350.50,82.96 L352.00,83.97 L353.50,85.02 L355.00,86.08 L356.50,87.18 L358.00,88.30 L359.50,89.45 L361.00,90.62 L362.50,91.82 L364.00,93.05 L365.50,94.31 L367.00,95.60 L368.50,96.93 L370.00,98.28 L371.50,99.66 L373.00,101.07 L374.50,102.52 L376.00,104.00 L377.50,105.51 L379.00,107.06 L380.50,108.64 L382.00,110.25 L383.50,111.90 L385.00,113.59 L386.50,115.31 L388.00,117.06 L389.50,118.85 L391.00,120.66 L392.50,122.51 L394.00,124.40 L395.50,126.31 L397.00,128.26 L398.50,130.24 L400.00,132.25 L401.50,134.30 L403.00,136.37 L404.50,138.48 L406.00,140.62 L407.50,142.79 L409.00,144.98 L410.50,147.20 L412.00,149.45 L413.50,151.71 L415.00,154.00 L416.50,156.31 L418.00,158.62 L419.50,160.94 L421.00,163.26 L422.50,165.58 L424.00,167.87 L425.50,170.60 L427.00,173.58 L428.50,176.72 L430.00,179.94 L431.50,183.18 L433.00,186.38 L434.50,189.45 L436.00,192.33 L437.50,195.11 L439.00,197.91 L440.50,200.72 L442.00,203.54 L443.50,206.38 L445.00,209.24 L446.50,212.11 L448.00,214.99 L449.50,217.89 L451.00,220.81 L452.50,223.73 L454.00,226.67 L455.50,229.62 L457.00,232.58 L458.50,235.56 L460.00,238.54 L461.50,241.54 L463.00,244.55 L464.50,247.57 L466.00,250.63 L467.50,253.74 L469.00,256.89 L470.50,260.06 L472.00,263.26 L473.50,266.49 L475.00,269.72 L476.50,272.97 L478.00,276.21 L479.50,279.46 L481.00,282.69 L482.50,285.92 L484.00,289.12 L485.50,292.30 L487.00,295.44 L488.50,298.54 L490.00,301.60 L491.50,304.63 L493.00,307.63 L494.50,310.59 L496.00,313.52 L497.50,316.42 L499.00,319.29 L500.50,322.13 L502.00,324.94 L503.50,327.72 L505.00,330.49 L506.50,333.27 L508.00,336.08 L509.50,338.91 L511.00,341.74 L512.50,344.55 L514.00,347.35 L515.50,350.10 L517.00,352.80 L518.50,355.36 L520.00,357.82 L521.50,360.22 L523.00,362.58 L524.50,364.95 L526.00,367.37 L527.50,369.87 L529.00,372.51 L530.50,375.32 L532.00,378.21 L533.50,381.10 L535.00,383.87 L536.50,386.44 L538.00,388.62 L539.50,390.57 L541.00,392.49 L542.50,394.37 L544.00,396.23 L545.50,398.06 L547.00,399.89 L548.50,401.69 L550.00,403.50 L551.50,405.29 L553.00,407.09 L554.50,408.88 L556.00,410.68 L557.50,412.47 L559.00,414.27 L560.50,416.06 L562.00,417.86 L563.50,419.64 L565.00,421.43 L566.50,423.20 L568.00,424.95 L569.50,426.69 L571.00,428.41 L572.50,429.95 L574.00,431.32 L575.50,432.63 L577.00,433.90 L578.50,435.12 L580.00,436.29 L581.50,437.40 L583.00,438.46 L584.50,439.48 L586.00,440.48 L587.50,441.45 L589.00,442.39 L590.50,443.30 L592.00,444.18 L593.50,445.03 L595.00,445.84 L596.50,446.61 L598.00,447.34 L599.50,448.03 L601.00,448.69 L602.50,449.32 L604.00,449.93 L605.50,450.50 L607.00,451.04 L608.50,451.55 L610.00,452.03 L611.50,452.47 L613.00,452.88 L614.50,453.26 L616.00,453.61 L617.50,453.95 L619.00,454.29 L620.50,454.63 L622.00,454.98 L623.50,455.35 L625.00,455.75 L626.50,456.17 L628.00,456.57 L629.50,456.95 L631.00,457.31 L632.50,457.67 L634.00,458.03 L635.50,458.36 L637.00,458.68 L638.50,458.96 L640.00,459.19 L641.50,459.38 L643.00,459.53 L644.50,459.67 L646.00,459.79 L647.50,459.91 L649.00,460.03 L650.50,460.15 L652.00,460.27 L653.50,460.39 L655.00,460.50 L656.50,460.61 L658.00,460.73 L659.50,460.84 L661.00,460.94 L662.50,461.05 L664.00,461.16 L665.50,461.27 L667.00,461.37 L668.50,461.48 L670.00,461.59 L671.50,461.70 L673.00,461.81 L674.50,461.92 L676.00,462.04 L677.50,462.16 L679.00,462.27 L680.50,462.39 L682.00,462.50 L683.50,462.62 L685.00,462.73 L686.50,462.83 L688.00,462.94 L689.50,463.04 L691.00,463.14 L692.50,463.23 L694.00,463.32 L695.50,463.40 L697.00,463.47 L698.50,463.54 L700.00,463.60 L701.50,463.65 L703.00,463.71 L704.50,463.75 L706.00,463.80 L707.50,463.85 L709.00,463.89 L710.50,463.93 L712.00,463.97 L713.50,464.00 L715.00,464.04 L716.50,464.07 L718.00,464.11 L719.50,464.14 L721.00,464.17 L722.50,464.20 L724.00,464.23 L725.50,464.27 L727.00,464.30 L728.50,464.33 L730.00,464.36 L731.50,464.39 L733.00,464.43 L734.50,464.46 L736.00,464.50 L737.50,464.53 L739.00,464.57 L740.50,464.61 L742.00,464.66 L743.50,464.70 L745.00,464.75 L746.50,464.80 L748.00,464.85 L749.50,464.90 L751.00,464.95 L752.50,465.00 L754.00,465.06 L755.50,465.11 L757.00,465.16 L758.50,465.21 L760.00,465.26 L761.50,465.31 L763.00,465.36 L764.50,465.40 L766.00,465.44 L767.50,465.48 L769.00,465.51 L770.50,465.54 L772.00,465.57 L773.50,465.59 L775.00,465.61 L776.50,465.63 L778.00,465.65 L779.50,465.67 L781.00,465.69 L782.50,465.70 L784.00,465.72 L785.50,465.74 L787.00,465.75 L788.50,465.77 L790.00,465.78 L791.50,465.80 L793.00,465.81 L794.50,465.82 L796.00,465.83 L797.50,465.85 L799.00,465.86 L800.50,465.86 L802.00,465.87 L803.50,465.88 L804.00,465.88" stroke="#ff8000"/>
<path d="M133.00,53.46 L134.50,53.49 L136.00,53.51 L137.50,53.54 L139.00,53.57 L140.50,53.60 L142.00,53.62 L143.50,53.65 L145.00,53.68 L146.50,53.72 L148.00,53.75 L149.50,53.78 L151.00,53.81 L152.50,53.85 L154.00,53.88 L155.50,53.92 L157.00,53.96 L158.50,54.00 L160.00,54.04 L161.50,54.08 L163.00,54.12 L164.50,54.16 L166.00,54.20 L167.50,54.25 L169.00,54.29 L170.50,54.34 L172.00,54.39 L173.50,54.44 L175.00,54.49 L176.50,54.54 L178.00,54.59 L179.50,54.65 L181.00,54.70 L182.50,54.76 L184.00,54.82 L185.50,54.88 L187.00,54.94 L188.50,55.01 L190.00,55.07 L191.50,55.14 L193.00,55.21 L194.50,55.28 L196.00,55.35 L197.50,55.43 L199.00,55.50 L200.50,55.58 L202.00,55.66 L203.50,55.74 L205.00,55.83 L206.50,55.92 L208.00,56.00 L209.50,56.10 L211.00,56.19 L212.50,56.29 L214.00,56.38 L215.50,56.48 L217.00,56.59 L218.50,56.69 L220.00,56.80 L221.50,56.92 L223.00,57.03 L224.50,57.15 L226.00,57.27 L227.50,57.39 L229.00,57.52 L230.50,57.65 L232.00,57.78 L233.50,57.92 L235.00,58.06 L236.50,58.21 L238.00,58.35 L239.50,58.50 L241.00,58.66 L242.50,58.82 L244.00,58.98 L245.50,59.15 L247.00,59.32 L248.50,59.50 L250.00,59.68 L251.50,59.87 L253.00,60.06 L254.50,60.25 L256.00,60.45 L257.50,60.66 L259.00,60.87 L260.50,61.08 L262.00,61.31 L263.50,61.53 L265.00,61.77 L266.50,62.01 L268.00,62.25 L269.50,62.50 L271.00,62.76 L272.50,63.02 L274.00,63.29 L275.50,63.57 L277.00,63.85 L278.50,64.15 L280.00,64.45 L281.50,64.75 L283.00,65.07 L284.50,65.39 L286.00,65.72 L287.50,66.06 L289.00,66.40 L290.50,66.76 L292.00,67.12 L293.50,67.50 L295.00,67.88 L296.50,68.27 L298.00,68.68 L299.50,69.09 L301.00,69.51 L302.50,69.94 L304.00,70.39 L305.50,70.84 L307.00,71.31 L308.50,71.79 L310.00,72.27 L311.50,72.78 L313.00,73.29 L314.50,73.82 L316.00,74.35 L317.50,74.91 L319.00,75.47 L320.50,76.05 L322.00,76.64 L323.50,77.25 L325.00,77.87 L326.50,78.51 L328.00,79.16 L329.50,79.83 L331.00,80.52 L332.50,81.22 L334.00,81.93 L335.50,82.67 L337.00,83.42 L338.50,84.19 L340.00,84.97 L341.50,85.78 L343.00,86.60 L344.50,87.45 L346.00,88.31 L347.50,89.19 L349.00,90.10 L350.50,91.02 L352.00,91.97 L353.50,92.93 L355.00,93.92 L356.50,94.93 L358.00,95.97 L359.50,97.02 L361.00,98.10 L362.50,99.21 L364.00,100.33 L365.50,101.49 L367.00,102.67 L368.50,103.87 L370.00,105.10 L371.50,106.35 L373.00,107.64 L374.50,108.95 L376.00,110.28 L377.50,111.65 L379.00,113.04 L380.50,114.46 L382.00,115.91 L383.50,117.39 L385.00,118.90 L386.50,120.44 L388.00,122.01 L389.50,123.62 L391.00,125.27 L392.50,126.95 L394.00,128.66 L395.50,130.41 L397.00,132.20 L398.50,134.02 L400.00,135.88 L401.50,137.77 L403.00,139.70 L404.50,141.67 L406.00,143.67 L407.50,145.71 L409.00,147.79 L410.50,149.90 L412.00,152.05 L413.50,154.24 L415.00,156.46 L416.50,158.72 L418.00,161.01 L419.50,163.34 L421.00,165.70 L422.50,168.10 L424.00,170.54 L425.50,173.19 L427.00,176.13 L428.50,179.26 L430.00,182.51 L431.50,185.77 L433.00,188.98 L434.50,192.03 L436.00,194.86 L437.50,197.56 L439.00,200.28 L440.50,203.01 L442.00,205.77 L443.50,208.55 L445.00,211.35 L446.50,214.17 L448.00,217.01 L449.50,219.86 L451.00,222.74 L452.50,225.63 L454.00,228.53 L455.50,231.46 L457.00,234.40 L458.50,237.35 L460.00,240.32 L461.50,243.30 L463.00,246.30 L464.50,249.31 L466.00,252.39 L467.50,255.52 L469.00,258.69 L470.50,261.91 L472.00,265.15 L473.50,268.43 L475.00,271.72 L476.50,275.03 L478.00,278.33 L479.50,281.64 L481.00,284.93 L482.50,288.21 L484.00,291.47 L485.50,294.69 L487.00,297.86 L488.50,300.99 L490.00,304.09 L491.50,307.15 L493.00,310.17 L494.50,313.15 L496.00,316.09 L497.50,318.98 L499.00,321.83 L500.50,324.62 L502.00,327.37 L503.50,330.06 L505.00,332.71 L506.50,335.34 L508.00,337.95 L509.50,340.54 L511.00,343.13 L512.50,345.71 L514.00,348.29 L515.50,350.87 L517.00,353.45 L518.50,355.95 L520.00,358.38 L521.50,360.76 L523.00,363.13 L524.50,365.50 L526.00,367.92 L527.50,370.39 L529.00,372.99 L530.50,375.72 L532.00,378.52 L533.50,381.30 L535.00,383.97 L536.50,386.47 L538.00,388.61 L539.50,390.53 L541.00,392.42 L542.50,394.29 L544.00,396.13 L545.50,397.96 L547.00,399.77 L548.50,401.58 L550.00,403.38 L551.50,405.18 L553.00,406.98 L554.50,408.79 L556.00,410.59 L557.50,412.39 L559.00,414.20 L560.50,416.01 L562.00,417.81 L563.50,419.61 L565.00,421.40 L566.50,423.18 L568.00,424.95 L569.50,426.69 L571.00,428.41 L572.50,429.95 L574.00,431.32 L575.50,432.63 L577.00,433.90 L578.50,435.12 L580.00,436.29 L581.50,437.40 L583.00,438.46 L584.50,439.48 L586.00,440.48 L587.50,441.45 L589.00,442.39 L590.50,443.30 L592.00,444.18 L593.50,445.03 L595.00,445.84 L596.50,446.61 L598.00,447.34 L599.50,448.03 L601.00,448.69 L602.50,449.32 L604.00,449.93 L605.50,450.50 L607.00,451.04 L608.50,451.55 L610.00,452.03 L611.50,452.47 L613.00,452.88 L614.50,453.26 L616.00,453.61 L617.50,453.95 L619.00,454.29 L620.50,454.63 L622.00,454.98 L623.50,455.35 L625.00,455.75 L626.50,456.17 L628.00,456.57 L629.50,456.95 L631.00,457.31 L632.50,457.67 L634.00,458.03 L635.50,458.36 L637.00,458.68 L638.50,458.96 L640.00,459.19 L641.50,459.38 L643.00,459.53 L644.50,459.67 L646.00,459.79 L647.50,459.91 L649.00,460.03 L650.50,460.15 L652.00,460.27 L653.50,460.39 L655.00,460.50 L656.50,460.61 L658.00,460.73 L659.50,460.84 L661.00,460.94 L662.50,461.05 L664.00,461.16 L665.50,461.27 L667.00,461.37 L668.50,461.48 L670.00,461.59 L671.50,461.70 L673.00,461.81 L674.50,461.92 L676.00,462.04 L677.50,462.16 L679.00,462.27 L680.50,462.39 L682.00,462.50 L683.50,462.62 L685.00,462.73 L686.50,462.83 L688.00,462.94 L689.50,463.04 L691.00,463.14 L692.50,463.23 L694.00,463.32 L695.50,463.40 L697.00,463.47 L698.50,463.54 L700.00,463.60 L701.50,463.65 L703.00,463.71 L704.50,463.75 L706.00,463.80 L707.50,463.85 L709.00,463.89 L710.50,463.93 L712.00,463.97 L713.50,464.00 L715.00,464.04 L716.50,464.07 L718.00,464.11 L719.50,464.14 L721.00,464.17 L722.50,464.20 L724.00,464.23 L725.50,464.27 L727.00,464.30 L728.50,464.33 L730.00,464.36 L731.50,464.39 L733.00,464.43 L734.50,464.46 L736.00,464.50 L737.50,464.53 L739.00,464.57 L740.50,464.61 L742.00,464.66 L743.50,464.70 L745.00,464.75 L746.50,464.80 L748.00,464.85 L749.50,464.90 L751.00,464.95 L752.50,465.00 L754.00,465.06 L755.50,465.11 L757.00,465.16 L758.50,465.21 L760.00,465.26 L761.50,465.31 L763.00,465.36 L764.50,465.40 L766.00,465.44 L767.50,465.48 L769.00,465.51 L770.50,465.54 L772.00,465.57 L773.50,465.59 L775.00,465.61 L776.50,465.63 L778.00,465.65 L779.50,465.67 L781.00,465.69 L782.50,465.70 L784.00,465.72 L785.50,465.74 L787.00,465.75 L788.50,465.77 L790.00,465.78 L791.50,465.80 L793.00,465.81 L794.50,465.82 L796.00,465.83 L797.50,465.85 L799.00,465.86 L800.50,465.86 L802.00,465.87 L803.50,465.88 L804.00,465.88" stroke="#0000ff"/>
</g>
<g fill="none" stroke-width="5.45" stroke-linecap="butt" stroke-linejoin="round" stroke-dasharray="8.15 3.5 14.85 3.5">
<path d="M130.50,82.23 L132.00,82.24 L133.50,82.26 L135.00,82.27 L136.50,82.28 L138.00,82.29 L139.50,82.30 L141.00,82.31 L142.50,82.33 L144.00,82.34 L145.50,82.35 L147.00,82.37 L148.50,82.38 L150.00,82.39 L151.50,82.41 L153.00,82.42 L154.50,82.44 L156.00,82.46 L157.50,82.47 L159.00,82.49 L160.50,82.51 L162.00,82.52 L163.50,82.54 L165.00,82.56 L166.50,82.58 L168.00,82.60 L169.50,82.62 L171.00,82.64 L172.50,82.66 L174.00,82.68 L175.50,82.70 L177.00,82.73 L178.50,82.75 L180.00,82.77 L181.50,82.80 L183.00,82.82 L184.50,82.85 L186.00,82.88 L187.50,82.91 L189.00,82.93 L190.50,82.96 L192.00,82.99 L193.50,83.02 L195.00,83.05 L196.50,83.09 L198.00,83.12 L199.50,83.15 L201.00,83.19 L202.50,83.22 L204.00,83.26 L205.50,83.30 L207.00,83.34 L208.50,83.37 L210.00,83.42 L211.50,83.46 L213.00,83.50 L214.50,83.54 L216.00,83.59 L217.50,83.63 L219.00,83.68 L220.50,83.73 L222.00,83.78 L223.50,83.83 L225.00,83.89 L226.50,83.94 L228.00,84.00 L229.50,84.05 L231.00,84.11 L232.50,84.17 L234.00,84.23 L235.50,84.30 L237.00,84.36 L238.50,84.43 L240.00,84.50 L241.50,84.57 L243.00,84.64 L244.50,84.71 L246.00,84.79 L247.50,84.87 L249.00,84.95 L250.50,85.03 L252.00,85.12 L253.50,85.20 L255.00,85.29 L256.50,85.39 L258.00,85.48 L259.50,85.58 L261.00,85.68 L262.50,85.78 L264.00,85.88 L265.50,85.99 L267.00,86.10 L268.50,86.22 L270.00,86.33 L271.50,86.45 L273.00,86.58 L274.50,86.70 L276.00,86.83 L277.50,86.97 L279.00,87.10 L280.50,87.25 L282.00,87.39 L283.50,87.54 L285.00,87.69 L286.50,87.85 L288.00,88.01 L289.50,88.18 L291.00,88.35 L292.50,88.52 L294.00,88.70 L295.50,88.89 L297.00,89.08 L298.50,89.28 L300.00,89.48 L301.50,89.68 L303.00,89.90 L304.50,90.11 L306.00,90.34 L307.50,90.57 L309.00,90.81 L310.50,91.05 L312.00,91.30 L313.50,91.56 L315.00,91.82 L316.50,92.09 L318.00,92.37 L319.50,92.66 L321.00,92.96 L322.50,93.26 L324.00,93.57 L325.50,93.90 L327.00,94.23 L328.50,94.57 L330.00,94.92 L331.50,95.28 L333.00,95.65 L334.50,96.03 L336.00,96.42 L337.50,96.82 L339.00,97.24 L340.50,97.66 L342.00,98.10 L343.50,98.55 L345.00,99.01 L346.50,99.49 L348.00,99.98 L349.50,100.49 L351.00,101.01 L352.50,101.54 L354.00,102.09 L355.50,102.65 L357.00,103.24 L358.50,103.83 L360.00,104.45 L361.50,105.09 L363.00,105.76 L364.50,106.46 L366.00,107.17 L367.50,107.90 L369.00,108.65 L370.50,109.43 L372.00,110.22 L373.50,111.05 L375.00,111.89 L376.50,112.76 L378.00,113.65 L379.50,114.57 L381.00,115.51 L382.50,116.48 L384.00,117.48 L385.50,118.51 L387.00,119.56 L388.50,120.65 L390.00,121.77 L391.50,122.91 L393.00,124.10 L394.50,125.31 L396.00,126.55 L397.50,127.84 L399.00,129.15 L400.50,130.51 L402.00,131.90 L403.50,133.32 L405.00,134.79 L406.50,136.29 L408.00,137.84 L409.50,139.43 L411.00,141.06 L412.50,142.73 L414.00,144.44 L415.50,146.20 L417.00,148.00 L418.50,149.85 L420.00,151.75 L421.50,153.69 L423.00,155.68 L424.50,157.72 L426.00,159.81 L427.50,161.94 L429.00,164.13 L430.50,166.37 L432.00,168.65 L433.50,170.99 L435.00,173.38 L436.50,175.82 L438.00,178.31 L439.50,180.86 L441.00,183.45 L442.50,186.10 L444.00,188.79 L445.50,191.54 L447.00,194.34 L448.50,197.19 L450.00,200.08 L451.50,203.03 L453.00,206.02 L454.50,209.06 L456.00,212.15 L457.50,215.28 L459.00,218.46 L460.50,221.67 L462.00,224.93 L463.50,228.23 L465.00,231.56 L466.50,234.93 L468.00,238.33 L469.50,241.77 L471.00,245.23 L472.50,248.72 L474.00,252.24 L475.50,255.78 L477.00,259.33 L478.50,262.91 L480.00,266.50 L481.50,270.11 L483.00,273.72 L484.50,277.34 L486.00,280.96 L487.50,284.59 L489.00,288.21 L490.50,291.83 L492.00,295.44 L493.50,299.04 L495.00,302.63 L496.50,306.20 L498.00,309.75 L499.50,313.28 L501.00,316.79 L502.50,320.27 L504.00,323.73 L505.50,327.15 L507.00,330.53 L508.50,333.89 L510.00,337.24 L511.50,340.60 L513.00,343.95 L514.50,347.29 L516.00,350.60 L517.50,353.88 L519.00,357.12 L520.50,360.31 L522.00,363.44 L523.50,366.51 L525.00,369.50 L526.50,372.41 L528.00,375.22 L529.50,377.94 L531.00,380.56 L532.50,383.13 L534.00,385.64 L535.50,388.09 L537.00,390.48 L538.50,392.82 L540.00,395.11 L541.50,397.33 L543.00,399.51 L544.50,401.62 L546.00,403.68 L547.50,405.69 L549.00,407.64 L550.50,409.54 L552.00,411.39 L553.50,413.18 L555.00,414.93 L556.50,416.62 L558.00,418.27 L559.50,419.87 L561.00,421.42 L562.50,422.92 L564.00,424.38 L565.50,425.79 L567.00,427.16 L568.50,428.49 L570.00,429.77 L571.50,431.02 L573.00,432.22 L574.50,433.39 L576.00,434.52 L577.50,435.61 L579.00,436.67 L580.50,437.69 L582.00,438.67 L583.50,439.59 L585.00,440.46 L586.50,441.29 L588.00,442.07 L589.50,442.82 L591.00,443.53 L592.50,444.20 L594.00,444.84 L595.50,445.45 L597.00,446.03 L598.50,446.59 L600.00,447.13 L601.50,447.64 L603.00,448.15 L604.50,448.63 L606.00,449.11 L607.50,449.57 L609.00,450.03 L610.50,450.49 L612.00,450.94 L613.50,451.39 L615.00,451.85 L616.50,452.30 L618.00,452.73 L619.50,453.15 L621.00,453.56 L622.50,453.95 L624.00,454.33 L625.50,454.69 L627.00,455.05 L628.50,455.39 L630.00,455.72 L631.50,456.04 L633.00,456.35 L634.50,456.64 L636.00,456.93 L637.50,457.21 L639.00,457.48 L640.50,457.74 L642.00,457.99 L643.50,458.24 L645.00,458.47 L646.50,458.70 L648.00,458.92 L649.50,459.13 L651.00,459.34 L652.50,459.54 L654.00,459.73 L655.50,459.92 L657.00,460.10 L658.50,460.27 L660.00,460.44 L661.50,460.61 L663.00,460.76 L664.50,460.92 L666.00,461.07 L667.50,461.21 L669.00,461.35 L670.50,461.49 L672.00,461.62 L673.50,461.74 L675.00,461.87 L676.50,461.98 L678.00,462.10 L679.50,462.21 L681.00,462.32 L682.50,462.42 L684.00,462.53 L685.50,462.63 L687.00,462.72 L688.50,462.81 L690.00,462.90 L691.50,462.99 L693.00,463.08 L694.50,463.16 L696.00,463.24 L697.50,463.31 L699.00,463.39 L700.50,463.46 L702.00,463.53 L703.50,463.60 L705.00,463.67 L706.50,463.73 L708.00,463.79 L709.50,463.85 L711.00,463.91 L712.50,463.97 L714.00,464.03 L715.50,464.08 L717.00,464.13 L718.50,464.18 L720.00,464.23 L721.50,464.28 L723.00,464.33 L724.50,464.37 L726.00,464.42 L727.50,464.46 L729.00,464.50 L730.50,464.54 L732.00,464.58 L733.50,464.62 L735.00,464.66 L736.50,464.69 L738.00,464.73 L739.50,464.76 L741.00,464.79 L742.50,464.83 L744.00,464.86 L745.50,464.89 L747.00,464.92 L748.50,464.95 L750.00,464.97 L751.50,465.00 L753.00,465.03 L754.50,465.05 L756.00,465.08 L757.50,465.10 L759.00,465.13 L760.50,465.15 L762.00,465.17 L763.50,465.19 L765.00,465.22 L766.50,465.24 L768.00,465.26 L769.50,465.28 L771.00,465.29 L772.50,465.31 L774.00,465.33 L775.50,465.35 L777.00,465.37 L778.50,465.38 L780.00,465.40 L781.50,465.41 L783.00,465.43 L784.50,465.44 L786.00,465.46 L787.50,465.47 L789.00,465.49 L790.50,465.50 L792.00,465.51 L793.50,465.53 L795.00,465.54 L796.50,465.55 L798.00,465.56 L799.50,465.57 L801.00,465.58 L802.50,465.59 L804.00,465.60 L805.50,465.62 L806.60,465.62" stroke="#000000"/>
<path d="M130.50,83.20 L132.00,83.21 L133.50,83.22 L135.00,83.23 L136.50,83.25 L138.00,83.26 L139.50,83.27 L141.00,83.28 L142.50,83.30 L144.00,83.31 L145.50,83.32 L147.00,83.34 L148.50,83.35 L150.00,83.36 L151.50,83.38 L153.00,83.39 L154.50,83.41 L156.00,83.43 L157.50,83.44 L159.00,83.46 L160.50,83.48 L162.00,83.50 L163.50,83.51 L165.00,83.53 L166.50,83.55 L168.00,83.57 L169.50,83.59 L171.00,83.61 L172.50,83.64 L174.00,83.66 L175.50,83.68 L177.00,83.70 L178.50,83.73 L180.00,83.75 L181.50,83.78 L183.00,83.80 L184.50,83.83 L186.00,83.86 L187.50,83.88 L189.00,83.91 L190.50,83.94 L192.00,83.97 L193.50,84.00 L195.00,84.04 L196.50,84.07 L198.00,84.10 L199.50,84.14 L201.00,84.17 L202.50,84.21 L204.00,84.24 L205.50,84.28 L207.00,84.32 L208.50,84.36 L210.00,84.40 L211.50,84.45 L213.00,84.49 L214.50,84.53 L216.00,84.58 L217.50,84.63 L219.00,84.68 L220.50,84.72 L222.00,84.78 L223.50,84.83 L225.00,84.88 L226.50,84.94 L228.00,84.99 L229.50,85.05 L231.00,85.11 L232.50,85.17 L234.00,85.23 L235.50,85.30 L237.00,85.37 L238.50,85.43 L240.00,85.50 L241.50,85.57 L243.00,85.65 L244.50,85.72 L246.00,85.80 L247.50,85.88 L249.00,85.96 L250.50,86.05 L252.00,86.13 L253.50,86.22 L255.00,86.31 L256.50,86.41 L258.00,86.50 L259.50,86.60 L261.00,86.70 L262.50,86.81 L264.00,86.91 L265.50,87.02 L267.00,87.13 L268.50,87.25 L270.00,87.37 L271.50,87.49 L273.00,87.62 L274.50,87.74 L276.00,87.88 L277.50,88.01 L279.00,88.15 L280.50,88.30 L282.00,88.44 L283.50,88.59 L285.00,88.75 L286.50,88.91 L288.00,89.07 L289.50,89.24 L291.00,89.41 L292.50,89.59 L294.00,89.77 L295.50,89.96 L297.00,90.16 L298.50,90.35 L300.00,90.56 L301.50,90.77 L303.00,90.98 L304.50,91.20 L306.00,91.43 L307.50,91.66 L309.00,91.90 L310.50,92.15 L312.00,92.41 L313.50,92.67 L315.00,92.93 L316.50,93.21 L318.00,93.49 L319.50,93.78 L321.00,94.08 L322.50,94.39 L324.00,94.71 L325.50,95.03 L327.00,95.37 L328.50,95.71 L330.00,96.07 L331.50,96.43 L333.00,96.80 L334.50,97.19 L336.00,97.58 L337.50,97.99 L339.00,98.41 L340.50,98.84 L342.00,99.28 L343.50,99.74 L345.00,100.20 L346.50,100.69 L348.00,101.18 L349.50,101.69 L351.00,102.21 L352.50,102.75 L354.00,103.31 L355.50,103.88 L357.00,104.46 L358.50,105.07 L360.00,105.69 L361.50,106.33 L363.00,107.01 L364.50,107.71 L366.00,108.42 L367.50,109.16 L369.00,109.92 L370.50,110.70 L372.00,111.50 L373.50,112.32 L375.00,113.17 L376.50,114.04 L378.00,114.94 L379.50,115.86 L381.00,116.81 L382.50,117.79 L384.00,118.79 L385.50,119.82 L387.00,120.88 L388.50,121.97 L390.00,123.09 L391.50,124.24 L393.00,125.43 L394.50,126.64 L396.00,127.89 L397.50,129.18 L399.00,130.50 L400.50,131.85 L402.00,133.24 L403.50,134.67 L405.00,136.14 L406.50,137.65 L408.00,139.19 L409.50,140.78 L411.00,142.41 L412.50,144.08 L414.00,145.80 L415.50,147.55 L417.00,149.36 L418.50,151.20 L420.00,153.10 L421.50,155.04 L423.00,157.03 L424.50,159.06 L426.00,161.14 L427.50,163.28 L429.00,165.46 L430.50,167.69 L432.00,169.97 L433.50,172.30 L435.00,174.68 L436.50,177.11 L438.00,179.60 L439.50,182.13 L441.00,184.71 L442.50,187.35 L444.00,190.04 L445.50,192.77 L447.00,195.56 L448.50,198.39 L450.00,201.28 L451.50,204.21 L453.00,207.19 L454.50,210.21 L456.00,213.28 L457.50,216.39 L459.00,219.55 L460.50,222.75 L462.00,225.99 L463.50,229.27 L465.00,232.58 L466.50,235.93 L468.00,239.31 L469.50,242.72 L471.00,246.17 L472.50,249.64 L474.00,253.13 L475.50,256.65 L477.00,260.18 L478.50,263.74 L480.00,267.30 L481.50,270.88 L483.00,274.47 L484.50,278.07 L486.00,281.67 L487.50,285.27 L489.00,288.87 L490.50,292.47 L492.00,296.06 L493.50,299.63 L495.00,303.20 L496.50,306.75 L498.00,310.28 L499.50,313.79 L501.00,317.28 L502.50,320.74 L504.00,324.17 L505.50,327.57 L507.00,330.94 L508.50,334.27 L510.00,337.60 L511.50,340.94 L513.00,344.26 L514.50,347.57 L516.00,350.85 L517.50,354.10 L519.00,357.31 L520.50,360.46 L522.00,363.57 L523.50,366.60 L525.00,369.57 L526.50,372.45 L528.00,375.25 L529.50,377.95 L531.00,380.56 L532.50,383.12 L534.00,385.62 L535.50,388.06 L537.00,390.45 L538.50,392.78 L540.00,395.05 L541.50,397.27 L543.00,399.44 L544.50,401.55 L546.00,403.60 L547.50,405.60 L549.00,407.55 L550.50,409.45 L552.00,411.29 L553.50,413.08 L555.00,414.82 L556.50,416.51 L558.00,418.15 L559.50,419.75 L561.00,421.29 L562.50,422.79 L564.00,424.25 L565.50,425.66 L567.00,427.03 L568.50,428.35 L570.00,429.64 L571.50,430.88 L573.00,432.08 L574.50,433.25 L576.00,434.38 L577.50,435.47 L579.00,436.53 L580.50,437.55 L582.00,438.52 L583.50,439.45 L585.00,440.32 L586.50,441.16 L588.00,441.95 L589.50,442.70 L591.00,443.42 L592.50,444.10 L594.00,444.75 L595.50,445.37 L597.00,445.96 L598.50,446.53 L600.00,447.08 L601.50,447.60 L603.00,448.11 L604.50,448.61 L606.00,449.09 L607.50,449.57 L609.00,450.03 L610.50,450.49 L612.00,450.95 L613.50,451.40 L615.00,451.86 L616.50,452.31 L618.00,452.74 L619.50,453.16 L621.00,453.57 L622.50,453.96 L624.00,454.34 L625.50,454.70 L627.00,455.06 L628.50,455.40 L630.00,455.73 L631.50,456.05 L633.00,456.36 L634.50,456.66 L636.00,456.94 L637.50,457.22 L639.00,457.49 L640.50,457.75 L642.00,458.00 L643.50,458.25 L645.00,458.48 L646.50,458.71 L648.00,458.93 L649.50,459.14 L651.00,459.35 L652.50,459.55 L654.00,459.74 L655.50,459.93 L657.00,460.11 L658.50,460.28 L660.00,460.45 L661.50,460.62 L663.00,460.77 L664.50,460.93 L666.00,461.08 L667.50,461.22 L669.00,461.36 L670.50,461.49 L672.00,461.62 L673.50,461.75 L675.00,461.87 L676.50,461.99 L678.00,462.11 L679.50,462.22 L681.00,462.33 L682.50,462.43 L684.00,462.53 L685.50,462.63 L687.00,462.73 L688.50,462.82 L690.00,462.91 L691.50,463.00 L693.00,463.08 L694.50,463.16 L696.00,463.24 L697.50,463.32 L699.00,463.40 L700.50,463.47 L702.00,463.54 L703.50,463.61 L705.00,463.67 L706.50,463.74 L708.00,463.80 L709.50,463.86 L711.00,463.92 L712.50,463.98 L714.00,464.03 L715.50,464.09 L717.00,464.14 L718.50,464.19 L720.00,464.24 L721.50,464.29 L723.00,464.33 L724.50,464.38 L726.00,464.42 L727.50,464.46 L729.00,464.51 L730.50,464.55 L732.00,464.59 L733.50,464.62 L735.00,464.66 L736.50,464.70 L738.00,464.73 L739.50,464.76 L741.00,464.80 L742.50,464.83 L744.00,464.86 L745.50,464.89 L747.00,464.92 L748.50,464.95 L750.00,464.98 L751.50,465.00 L753.00,465.03 L754.50,465.06 L756.00,465.08 L757.50,465.11 L759.00,465.13 L760.50,465.15 L762.00,465.17 L763.50,465.20 L765.00,465.22 L766.50,465.24 L768.00,465.26 L769.50,465.28 L771.00,465.30 L772.50,465.32 L774.00,465.33 L775.50,465.35 L777.00,465.37 L778.50,465.38 L780.00,465.40 L781.50,465.42 L783.00,465.43 L784.50,465.45 L786.00,465.46 L787.50,465.47 L789.00,465.49 L790.50,465.50 L792.00,465.51 L793.50,465.53 L795.00,465.54 L796.50,465.55 L798.00,465.56 L799.50,465.57 L801.00,465.59 L802.50,465.60 L804.00,465.61 L805.50,465.62 L806.60,465.62" stroke="#ff0000"/>
<path d="M130.50,86.02 L132.00,86.04 L133.50,86.05 L135.00,86.06 L136.50,86.07 L138.00,86.08 L139.50,86.10 L141.00,86.11 L142.50,86.12 L144.00,86.14 L145.50,86.15 L147.00,86.17 L148.50,86.18 L150.00,86.20 L151.50,86.21 L153.00,86.23 L154.50,86.24 L156.00,86.26 L157.50,86.28 L159.00,86.30 L160.50,86.31 L162.00,86.33 L163.50,86.35 L165.00,86.37 L166.50,86.39 L168.00,86.41 L169.50,86.44 L171.00,86.46 L172.50,86.48 L174.00,86.50 L175.50,86.53 L177.00,86.55 L178.50,86.58 L180.00,86.60 L181.50,86.63 L183.00,86.66 L184.50,86.68 L186.00,86.71 L187.50,86.74 L189.00,86.77 L190.50,86.80 L192.00,86.83 L193.50,86.87 L195.00,86.90 L196.50,86.93 L198.00,86.97 L199.50,87.01 L201.00,87.04 L202.50,87.08 L204.00,87.12 L205.50,87.16 L207.00,87.20 L208.50,87.24 L210.00,87.29 L211.50,87.33 L213.00,87.38 L214.50,87.42 L216.00,87.47 L217.50,87.52 L219.00,87.57 L220.50,87.62 L222.00,87.68 L223.50,87.73 L225.00,87.79 L226.50,87.85 L228.00,87.91 L229.50,87.97 L231.00,88.03 L232.50,88.09 L234.00,88.16 L235.50,88.23 L237.00,88.30 L238.50,88.37 L240.00,88.44 L241.50,88.51 L243.00,88.59 L244.50,88.67 L246.00,88.75 L247.50,88.84 L249.00,88.92 L250.50,89.01 L252.00,89.10 L253.50,89.19 L255.00,89.29 L256.50,89.38 L258.00,89.48 L259.50,89.59 L261.00,89.69 L262.50,89.80 L264.00,89.91 L265.50,90.03 L267.00,90.15 L268.50,90.27 L270.00,90.39 L271.50,90.52 L273.00,90.65 L274.50,90.78 L276.00,90.92 L277.50,91.06 L279.00,91.21 L280.50,91.36 L282.00,91.51 L283.50,91.67 L285.00,91.83 L286.50,92.00 L288.00,92.17 L289.50,92.34 L291.00,92.52 L292.50,92.71 L294.00,92.90 L295.50,93.09 L297.00,93.29 L298.50,93.50 L300.00,93.71 L301.50,93.93 L303.00,94.15 L304.50,94.38 L306.00,94.62 L307.50,94.86 L309.00,95.11 L310.50,95.37 L312.00,95.63 L313.50,95.90 L315.00,96.18 L316.50,96.46 L318.00,96.76 L319.50,97.06 L321.00,97.37 L322.50,97.69 L324.00,98.01 L325.50,98.35 L327.00,98.70 L328.50,99.05 L330.00,99.42 L331.50,99.79 L333.00,100.18 L334.50,100.57 L336.00,100.98 L337.50,101.40 L339.00,101.83 L340.50,102.27 L342.00,102.73 L343.50,103.20 L345.00,103.68 L346.50,104.17 L348.00,104.68 L349.50,105.20 L351.00,105.74 L352.50,106.29 L354.00,106.86 L355.50,107.44 L357.00,108.04 L358.50,108.66 L360.00,109.30 L361.50,109.95 L363.00,110.65 L364.50,111.36 L366.00,112.09 L367.50,112.84 L369.00,113.61 L370.50,114.40 L372.00,115.22 L373.50,116.06 L375.00,116.92 L376.50,117.80 L378.00,118.71 L379.50,119.65 L381.00,120.61 L382.50,121.60 L384.00,122.61 L385.50,123.66 L387.00,124.73 L388.50,125.83 L390.00,126.96 L391.50,128.12 L393.00,129.32 L394.50,130.54 L396.00,131.80 L397.50,133.09 L399.00,134.42 L400.50,135.78 L402.00,137.18 L403.50,138.61 L405.00,140.09 L406.50,141.60 L408.00,143.15 L409.50,144.74 L411.00,146.37 L412.50,148.04 L414.00,149.75 L415.50,151.50 L417.00,153.30 L418.50,155.15 L420.00,157.03 L421.50,158.97 L423.00,160.94 L424.50,162.97 L426.00,165.04 L427.50,167.16 L429.00,169.33 L430.50,171.54 L432.00,173.80 L433.50,176.11 L435.00,178.47 L436.50,180.88 L438.00,183.34 L439.50,185.85 L441.00,188.40 L442.50,191.01 L444.00,193.66 L445.50,196.36 L447.00,199.11 L448.50,201.91 L450.00,204.75 L451.50,207.64 L453.00,210.57 L454.50,213.55 L456.00,216.57 L457.50,219.64 L459.00,222.75 L460.50,225.89 L462.00,229.08 L463.50,232.30 L465.00,235.55 L466.50,238.84 L468.00,242.17 L469.50,245.52 L471.00,248.90 L472.50,252.30 L474.00,255.73 L475.50,259.19 L477.00,262.66 L478.50,266.14 L480.00,269.64 L481.50,273.16 L483.00,276.68 L484.50,280.21 L486.00,283.74 L487.50,287.27 L489.00,290.80 L490.50,294.33 L492.00,297.85 L493.50,301.36 L495.00,304.86 L496.50,308.35 L498.00,311.82 L499.50,315.26 L501.00,318.69 L502.50,322.09 L504.00,325.46 L505.50,328.80 L507.00,332.11 L508.50,335.39 L510.00,338.66 L511.50,341.91 L513.00,345.16 L514.50,348.38 L516.00,351.57 L517.50,354.73 L519.00,357.84 L520.50,360.91 L522.00,363.92 L523.50,366.88 L525.00,369.76 L526.50,372.58 L528.00,375.32 L529.50,377.98 L531.00,380.56 L532.50,383.09 L534.00,385.56 L535.50,387.97 L537.00,390.34 L538.50,392.64 L540.00,394.90 L541.50,397.09 L543.00,399.24 L544.50,401.33 L546.00,403.37 L547.50,405.35 L549.00,407.28 L550.50,409.16 L552.00,410.99 L553.50,412.77 L555.00,414.50 L556.50,416.18 L558.00,417.81 L559.50,419.40 L561.00,420.94 L562.50,422.43 L564.00,423.88 L565.50,425.28 L567.00,426.64 L568.50,427.96 L570.00,429.24 L571.50,430.48 L573.00,431.68 L574.50,432.84 L576.00,433.97 L577.50,435.06 L579.00,436.11 L580.50,437.13 L582.00,438.11 L583.50,439.04 L585.00,439.93 L586.50,440.77 L588.00,441.58 L589.50,442.36 L591.00,443.10 L592.50,443.80 L594.00,444.48 L595.50,445.13 L597.00,445.75 L598.50,446.35 L600.00,446.93 L601.50,447.48 L603.00,448.02 L604.50,448.54 L606.00,449.05 L607.50,449.55 L609.00,450.03 L610.50,450.50 L612.00,450.97 L613.50,451.43 L615.00,451.89 L616.50,452.34 L618.00,452.78 L619.50,453.20 L621.00,453.60 L622.50,453.99 L624.00,454.37 L625.50,454.74 L627.00,455.09 L628.50,455.43 L630.00,455.76 L631.50,456.08 L633.00,456.39 L634.50,456.69 L636.00,456.98 L637.50,457.25 L639.00,457.52 L640.50,457.78 L642.00,458.04 L643.50,458.28 L645.00,458.51 L646.50,458.74 L648.00,458.96 L649.50,459.17 L651.00,459.38 L652.50,459.58 L654.00,459.77 L655.50,459.96 L657.00,460.14 L658.50,460.31 L660.00,460.48 L661.50,460.64 L663.00,460.80 L664.50,460.96 L666.00,461.10 L667.50,461.25 L669.00,461.39 L670.50,461.52 L672.00,461.65 L673.50,461.78 L675.00,461.90 L676.50,462.02 L678.00,462.13 L679.50,462.24 L681.00,462.35 L682.50,462.46 L684.00,462.56 L685.50,462.65 L687.00,462.75 L688.50,462.84 L690.00,462.93 L691.50,463.02 L693.00,463.10 L694.50,463.18 L696.00,463.26 L697.50,463.34 L699.00,463.41 L700.50,463.49 L702.00,463.56 L703.50,463.62 L705.00,463.69 L706.50,463.75 L708.00,463.82 L709.50,463.88 L711.00,463.94 L712.50,463.99 L714.00,464.05 L715.50,464.10 L717.00,464.15 L718.50,464.20 L720.00,464.25 L721.50,464.30 L723.00,464.35 L724.50,464.39 L726.00,464.43 L727.50,464.48 L729.00,464.52 L730.50,464.56 L732.00,464.60 L733.50,464.63 L735.00,464.67 L736.50,464.71 L738.00,464.74 L739.50,464.78 L741.00,464.81 L742.50,464.84 L744.00,464.87 L745.50,464.90 L747.00,464.93 L748.50,464.96 L750.00,464.99 L751.50,465.01 L753.00,465.04 L754.50,465.07 L756.00,465.09 L757.50,465.11 L759.00,465.14 L760.50,465.16 L762.00,465.18 L763.50,465.20 L765.00,465.23 L766.50,465.25 L768.00,465.27 L769.50,465.28 L771.00,465.30 L772.50,465.32 L774.00,465.34 L775.50,465.36 L777.00,465.37 L778.50,465.39 L780.00,465.41 L781.50,465.42 L783.00,465.44 L784.50,465.45 L786.00,465.47 L787.50,465.48 L789.00,465.49 L790.50,465.51 L792.00,465.52 L793.50,465.53 L795.00,465.54 L796.50,465.56 L798.00,465.57 L799.50,465.58 L801.00,465.59 L802.50,465.60 L804.00,465.61 L805.50,465.62 L806.60,465.63" stroke="#00ff00"/>
<path d="M130.50,91.45 L132.00,91.47 L133.50,91.48 L135.00,91.49 L136.50,91.50 L138.00,91.52 L139.50,91.53 L141.00,91.55 L142.50,91.56 L144.00,91.58 L145.50,91.59 L147.00,91.61 L148.50,91.62 L150.00,91.64 L151.50,91.66 L153.00,91.68 L154.50,91.69 L156.00,91.71 L157.50,91.73 L159.00,91.75 L160.50,91.77 L162.00,91.79 L163.50,91.81 L165.00,91.83 L166.50,91.86 L168.00,91.88 L169.50,91.90 L171.00,91.93 L172.50,91.95 L174.00,91.98 L175.50,92.00 L177.00,92.03 L178.50,92.06 L180.00,92.09 L181.50,92.11 L183.00,92.14 L184.50,92.17 L186.00,92.21 L187.50,92.24 L189.00,92.27 L190.50,92.30 L192.00,92.34 L193.50,92.37 L195.00,92.41 L196.50,92.45 L198.00,92.49 L199.50,92.53 L201.00,92.57 L202.50,92.61 L204.00,92.65 L205.50,92.69 L207.00,92.74 L208.50,92.79 L210.00,92.83 L211.50,92.88 L213.00,92.93 L214.50,92.98 L216.00,93.03 L217.50,93.09 L219.00,93.14 L220.50,93.20 L222.00,93.26 L223.50,93.32 L225.00,93.38 L226.50,93.44 L228.00,93.51 L229.50,93.57 L231.00,93.64 L232.50,93.71 L234.00,93.78 L235.50,93.86 L237.00,93.93 L238.50,94.01 L240.00,94.09 L241.50,94.17 L243.00,94.25 L244.50,94.34 L246.00,94.43 L247.50,94.52 L249.00,94.61 L250.50,94.71 L252.00,94.80 L253.50,94.90 L255.00,95.01 L256.50,95.11 L258.00,95.22 L259.50,95.33 L261.00,95.45 L262.50,95.57 L264.00,95.69 L265.50,95.81 L267.00,95.94 L268.50,96.07 L270.00,96.20 L271.50,96.34 L273.00,96.48 L274.50,96.63 L276.00,96.78 L277.50,96.93 L279.00,97.09 L280.50,97.25 L282.00,97.41 L283.50,97.58 L285.00,97.76 L286.50,97.94 L288.00,98.12 L289.50,98.31 L291.00,98.50 L292.50,98.70 L294.00,98.91 L295.50,99.12 L297.00,99.33 L298.50,99.55 L300.00,99.78 L301.50,100.01 L303.00,100.25 L304.50,100.50 L306.00,100.75 L307.50,101.01 L309.00,101.28 L310.50,101.55 L312.00,101.83 L313.50,102.12 L315.00,102.42 L316.50,102.72 L318.00,103.04 L319.50,103.36 L321.00,103.69 L322.50,104.02 L324.00,104.37 L325.50,104.73 L327.00,105.10 L328.50,105.47 L330.00,105.86 L331.50,106.26 L333.00,106.67 L334.50,107.09 L336.00,107.52 L337.50,107.96 L339.00,108.41 L340.50,108.88 L342.00,109.36 L343.50,109.85 L345.00,110.36 L346.50,110.88 L348.00,111.41 L349.50,111.96 L351.00,112.52 L352.50,113.10 L354.00,113.69 L355.50,114.30 L357.00,114.93 L358.50,115.57 L360.00,116.24 L361.50,116.92 L363.00,117.64 L364.50,118.38 L366.00,119.13 L367.50,119.91 L369.00,120.71 L370.50,121.53 L372.00,122.37 L373.50,123.24 L375.00,124.12 L376.50,125.03 L378.00,125.97 L379.50,126.93 L381.00,127.92 L382.50,128.93 L384.00,129.97 L385.50,131.03 L387.00,132.13 L388.50,133.25 L390.00,134.40 L391.50,135.58 L393.00,136.79 L394.50,138.04 L396.00,139.31 L397.50,140.62 L399.00,141.96 L400.50,143.34 L402.00,144.75 L403.50,146.19 L405.00,147.67 L406.50,149.19 L408.00,150.75 L409.50,152.34 L411.00,153.97 L412.50,155.64 L414.00,157.35 L415.50,159.10 L417.00,160.89 L418.50,162.73 L420.00,164.60 L421.50,166.52 L423.00,168.48 L424.50,170.49 L426.00,172.54 L427.50,174.63 L429.00,176.77 L430.50,178.95 L432.00,181.18 L433.50,183.45 L435.00,185.77 L436.50,188.13 L438.00,190.54 L439.50,192.99 L441.00,195.49 L442.50,198.04 L444.00,200.63 L445.50,203.26 L447.00,205.94 L448.50,208.67 L450.00,211.43 L451.50,214.24 L453.00,217.09 L454.50,219.98 L456.00,222.91 L457.50,225.88 L459.00,228.89 L460.50,231.94 L462.00,235.02 L463.50,238.13 L465.00,241.28 L466.50,244.45 L468.00,247.66 L469.50,250.89 L471.00,254.15 L472.50,257.44 L474.00,260.74 L475.50,264.07 L477.00,267.41 L478.50,270.77 L480.00,274.14 L481.50,277.53 L483.00,280.92 L484.50,284.32 L486.00,287.72 L487.50,291.12 L489.00,294.52 L490.50,297.92 L492.00,301.31 L493.50,304.69 L495.00,308.07 L496.50,311.43 L498.00,314.77 L499.50,318.09 L501.00,321.40 L502.50,324.68 L504.00,327.94 L505.50,331.17 L507.00,334.37 L508.50,337.54 L510.00,340.68 L511.50,343.80 L513.00,346.88 L514.50,349.94 L516.00,352.95 L517.50,355.93 L519.00,358.87 L520.50,361.76 L522.00,364.60 L523.50,367.40 L525.00,370.14 L526.50,372.84 L528.00,375.47 L529.50,378.05 L531.00,380.56 L532.50,383.03 L534.00,385.45 L535.50,387.81 L537.00,390.12 L538.50,392.38 L540.00,394.59 L541.50,396.75 L543.00,398.86 L544.50,400.91 L546.00,402.91 L547.50,404.87 L549.00,406.77 L550.50,408.62 L552.00,410.43 L553.50,412.18 L555.00,413.89 L556.50,415.55 L558.00,417.16 L559.50,418.73 L561.00,420.25 L562.50,421.73 L564.00,423.16 L565.50,424.55 L567.00,425.90 L568.50,427.21 L570.00,428.48 L571.50,429.71 L573.00,430.91 L574.50,432.06 L576.00,433.18 L577.50,434.26 L579.00,435.31 L580.50,436.33 L582.00,437.31 L583.50,438.25 L585.00,439.16 L586.50,440.04 L588.00,440.88 L589.50,441.70 L591.00,442.48 L592.50,443.24 L594.00,443.97 L595.50,444.67 L597.00,445.35 L598.50,446.01 L600.00,446.64 L601.50,447.26 L603.00,447.85 L604.50,448.42 L606.00,448.97 L607.50,449.51 L609.00,450.03 L610.50,450.53 L612.00,451.02 L613.50,451.50 L615.00,451.96 L616.50,452.41 L618.00,452.84 L619.50,453.26 L621.00,453.67 L622.50,454.06 L624.00,454.44 L625.50,454.80 L627.00,455.16 L628.50,455.50 L630.00,455.83 L631.50,456.15 L633.00,456.46 L634.50,456.75 L636.00,457.04 L637.50,457.32 L639.00,457.59 L640.50,457.85 L642.00,458.10 L643.50,458.34 L645.00,458.57 L646.50,458.80 L648.00,459.02 L649.50,459.23 L651.00,459.44 L652.50,459.64 L654.00,459.83 L655.50,460.01 L657.00,460.19 L658.50,460.37 L660.00,460.54 L661.50,460.70 L663.00,460.86 L664.50,461.01 L666.00,461.16 L667.50,461.30 L669.00,461.44 L670.50,461.57 L672.00,461.70 L673.50,461.83 L675.00,461.95 L676.50,462.06 L678.00,462.18 L679.50,462.29 L681.00,462.40 L682.50,462.50 L684.00,462.60 L685.50,462.70 L687.00,462.79 L688.50,462.88 L690.00,462.97 L691.50,463.06 L693.00,463.14 L694.50,463.22 L696.00,463.30 L697.50,463.38 L699.00,463.45 L700.50,463.52 L702.00,463.59 L703.50,463.66 L705.00,463.72 L706.50,463.79 L708.00,463.85 L709.50,463.91 L711.00,463.97 L712.50,464.02 L714.00,464.08 L715.50,464.13 L717.00,464.18 L718.50,464.23 L720.00,464.28 L721.50,464.33 L723.00,464.37 L724.50,464.42 L726.00,464.46 L727.50,464.50 L729.00,464.54 L730.50,464.58 L732.00,464.62 L733.50,464.66 L735.00,464.69 L736.50,464.73 L738.00,464.76 L739.50,464.80 L741.00,464.83 L742.50,464.86 L744.00,464.89 L745.50,464.92 L747.00,464.95 L748.50,464.98 L750.00,465.00 L751.50,465.03 L753.00,465.06 L754.50,465.08 L756.00,465.11 L757.50,465.13 L759.00,465.15 L760.50,465.18 L762.00,465.20 L763.50,465.22 L765.00,465.24 L766.50,465.26 L768.00,465.28 L769.50,465.30 L771.00,465.32 L772.50,465.33 L774.00,465.35 L775.50,465.37 L777.00,465.39 L778.50,465.40 L780.00,465.42 L781.50,465.43 L783.00,465.45 L784.50,465.46 L786.00,465.48 L787.50,465.49 L789.00,465.50 L790.50,465.52 L792.00,465.53 L793.50,465.54 L795.00,465.55 L796.50,465.56 L798.00,465.58 L799.50,465.59 L801.00,465.60 L802.50,465.61 L804.00,465.62 L805.50,465.63 L806.60,465.63" stroke="#ff8000"/>
<path d="M130.50,93.62 L132.00,93.63 L133.50,93.64 L135.00,93.65 L136.50,93.67 L138.00,93.68 L139.50,93.70 L141.00,93.71 L142.50,93.73 L144.00,93.74 L145.50,93.76 L147.00,93.78 L148.50,93.79 L150.00,93.81 L151.50,93.83 L153.00,93.85 L154.50,93.86 L156.00,93.88 L157.50,93.90 L159.00,93.92 L160.50,93.94 L162.00,93.97 L163.50,93.99 L165.00,94.01 L166.50,94.03 L168.00,94.06 L169.50,94.08 L171.00,94.11 L172.50,94.13 L174.00,94.16 L175.50,94.18 L177.00,94.21 L178.50,94.24 L180.00,94.27 L181.50,94.30 L183.00,94.33 L184.50,94.36 L186.00,94.39 L187.50,94.43 L189.00,94.46 L190.50,94.50 L192.00,94.53 L193.50,94.57 L195.00,94.61 L196.50,94.64 L198.00,94.68 L199.50,94.73 L201.00,94.77 L202.50,94.81 L204.00,94.85 L205.50,94.90 L207.00,94.95 L208.50,94.99 L210.00,95.04 L211.50,95.09 L213.00,95.14 L214.50,95.20 L216.00,95.25 L217.50,95.31 L219.00,95.36 L220.50,95.42 L222.00,95.48 L223.50,95.54 L225.00,95.61 L226.50,95.67 L228.00,95.74 L229.50,95.81 L231.00,95.88 L232.50,95.95 L234.00,96.02 L235.50,96.10 L237.00,96.18 L238.50,96.26 L240.00,96.34 L241.50,96.42 L243.00,96.51 L244.50,96.60 L246.00,96.69 L247.50,96.78 L249.00,96.88 L250.50,96.98 L252.00,97.08 L253.50,97.18 L255.00,97.29 L256.50,97.40 L258.00,97.51 L259.50,97.62 L261.00,97.74 L262.50,97.86 L264.00,97.99 L265.50,98.11 L267.00,98.25 L268.50,98.38 L270.00,98.52 L271.50,98.66 L273.00,98.81 L274.50,98.95 L276.00,99.11 L277.50,99.27 L279.00,99.43 L280.50,99.59 L282.00,99.76 L283.50,99.94 L285.00,100.12 L286.50,100.30 L288.00,100.49 L289.50,100.69 L291.00,100.88 L292.50,101.09 L294.00,101.30 L295.50,101.52 L297.00,101.74 L298.50,101.96 L300.00,102.20 L301.50,102.44 L303.00,102.68 L304.50,102.94 L306.00,103.20 L307.50,103.46 L309.00,103.73 L310.50,104.02 L312.00,104.30 L313.50,104.60 L315.00,104.90 L316.50,105.22 L318.00,105.54 L319.50,105.86 L321.00,106.20 L322.50,106.55 L324.00,106.91 L325.50,107.27 L327.00,107.65 L328.50,108.03 L330.00,108.43 L331.50,108.83 L333.00,109.25 L334.50,109.68 L336.00,110.12 L337.50,110.57 L339.00,111.04 L340.50,111.51 L342.00,112.00 L343.50,112.50 L345.00,113.02 L346.50,113.55 L348.00,114.09 L349.50,114.65 L351.00,115.22 L352.50,115.81 L354.00,116.42 L355.50,117.04 L357.00,117.67 L358.50,118.33 L360.00,119.00 L361.50,119.70 L363.00,120.42 L364.50,121.17 L366.00,121.94 L367.50,122.73 L369.00,123.54 L370.50,124.37 L372.00,125.22 L373.50,126.10 L375.00,126.99 L376.50,127.91 L378.00,128.86 L379.50,129.83 L381.00,130.83 L382.50,131.85 L384.00,132.90 L385.50,133.97 L387.00,135.07 L388.50,136.20 L390.00,137.36 L391.50,138.55 L393.00,139.77 L394.50,141.02 L396.00,142.31 L397.50,143.62 L399.00,144.97 L400.50,146.35 L402.00,147.76 L403.50,149.21 L405.00,150.70 L406.50,152.22 L408.00,153.77 L409.50,155.37 L411.00,157.00 L412.50,158.67 L414.00,160.38 L415.50,162.13 L417.00,163.92 L418.50,165.75 L420.00,167.62 L421.50,169.53 L423.00,171.49 L424.50,173.48 L426.00,175.52 L427.50,177.60 L429.00,179.73 L430.50,181.90 L432.00,184.11 L433.50,186.37 L435.00,188.67 L436.50,191.02 L438.00,193.41 L439.50,195.84 L441.00,198.32 L442.50,200.84 L444.00,203.41 L445.50,206.01 L447.00,208.67 L448.50,211.36 L450.00,214.09 L451.50,216.87 L453.00,219.69 L454.50,222.54 L456.00,225.44 L457.50,228.37 L459.00,231.34 L460.50,234.34 L462.00,237.38 L463.50,240.45 L465.00,243.55 L466.50,246.69 L468.00,249.85 L469.50,253.04 L471.00,256.25 L472.50,259.48 L474.00,262.74 L475.50,266.01 L477.00,269.31 L478.50,272.62 L480.00,275.94 L481.50,279.27 L483.00,282.61 L484.50,285.95 L486.00,289.30 L487.50,292.65 L489.00,296.00 L490.50,299.35 L492.00,302.69 L493.50,306.02 L495.00,309.34 L496.50,312.65 L498.00,315.95 L499.50,319.22 L501.00,322.48 L502.50,325.71 L504.00,328.92 L505.50,332.11 L507.00,335.27 L508.50,338.39 L510.00,341.49 L511.50,344.55 L513.00,347.57 L514.50,350.56 L516.00,353.50 L517.50,356.41 L519.00,359.28 L520.50,362.10 L522.00,364.88 L523.50,367.61 L525.00,370.30 L526.50,372.94 L528.00,375.53 L529.50,378.07 L531.00,380.56 L532.50,383.01 L534.00,385.40 L535.50,387.75 L537.00,390.04 L538.50,392.28 L540.00,394.47 L541.50,396.61 L543.00,398.70 L544.50,400.74 L546.00,402.73 L547.50,404.67 L549.00,406.56 L550.50,408.41 L552.00,410.20 L553.50,411.95 L555.00,413.64 L556.50,415.29 L558.00,416.90 L559.50,418.46 L561.00,419.98 L562.50,421.45 L564.00,422.88 L565.50,424.26 L567.00,425.61 L568.50,426.91 L570.00,428.18 L571.50,429.41 L573.00,430.60 L574.50,431.75 L576.00,432.86 L577.50,433.95 L579.00,434.99 L580.50,436.01 L582.00,436.99 L583.50,437.94 L585.00,438.85 L586.50,439.74 L588.00,440.60 L589.50,441.43 L591.00,442.24 L592.50,443.01 L594.00,443.77 L595.50,444.49 L597.00,445.20 L598.50,445.87 L600.00,446.53 L601.50,447.16 L603.00,447.78 L604.50,448.37 L606.00,448.94 L607.50,449.49 L609.00,450.03 L610.50,450.54 L612.00,451.04 L613.50,451.52 L615.00,451.99 L616.50,452.44 L618.00,452.87 L619.50,453.29 L621.00,453.70 L622.50,454.09 L624.00,454.47 L625.50,454.83 L627.00,455.18 L628.50,455.53 L630.00,455.85 L631.50,456.17 L633.00,456.48 L634.50,456.78 L636.00,457.07 L637.50,457.34 L639.00,457.61 L640.50,457.87 L642.00,458.12 L643.50,458.36 L645.00,458.60 L646.50,458.83 L648.00,459.04 L649.50,459.26 L651.00,459.46 L652.50,459.66 L654.00,459.85 L655.50,460.04 L657.00,460.22 L658.50,460.39 L660.00,460.56 L661.50,460.72 L663.00,460.88 L664.50,461.03 L666.00,461.18 L667.50,461.32 L669.00,461.46 L670.50,461.59 L672.00,461.72 L673.50,461.84 L675.00,461.97 L676.50,462.08 L678.00,462.20 L679.50,462.31 L681.00,462.41 L682.50,462.52 L684.00,462.62 L685.50,462.71 L687.00,462.81 L688.50,462.90 L690.00,462.99 L691.50,463.07 L693.00,463.16 L694.50,463.24 L696.00,463.32 L697.50,463.39 L699.00,463.46 L700.50,463.54 L702.00,463.61 L703.50,463.67 L705.00,463.74 L706.50,463.80 L708.00,463.86 L709.50,463.92 L711.00,463.98 L712.50,464.03 L714.00,464.09 L715.50,464.14 L717.00,464.19 L718.50,464.24 L720.00,464.29 L721.50,464.34 L723.00,464.38 L724.50,464.43 L726.00,464.47 L727.50,464.51 L729.00,464.55 L730.50,464.59 L732.00,464.63 L733.50,464.67 L735.00,464.70 L736.50,464.74 L738.00,464.77 L739.50,464.80 L741.00,464.84 L742.50,464.87 L744.00,464.90 L745.50,464.93 L747.00,464.96 L748.50,464.98 L750.00,465.01 L751.50,465.04 L753.00,465.06 L754.50,465.09 L756.00,465.11 L757.50,465.14 L759.00,465.16 L760.50,465.18 L762.00,465.20 L763.50,465.22 L765.00,465.24 L766.50,465.26 L768.00,465.28 L769.50,465.30 L771.00,465.32 L772.50,465.34 L774.00,465.36 L775.50,465.37 L777.00,465.39 L778.50,465.41 L780.00,465.42 L781.50,465.44 L783.00,465.45 L784.50,465.47 L786.00,465.48 L787.50,465.49 L789.00,465.51 L790.50,465.52 L792.00,465.53 L793.50,465.54 L795.00,465.56 L796.50,465.57 L797.50,465.57" stroke="#0000ff"/>
</g>
<circle cx="424.1" cy="156.6" r="7.8" fill="#000000"/><circle cx="463.7" cy="238.5" r="7.8" fill="#000000"/><circle cx="486.6" cy="284.3" r="7.8" fill="#000000"/><circle cx="505.0" cy="321.0" r="7.8" fill="#000000"/><circle cx="517.1" cy="350.6" r="7.8" fill="#000000"/><circle cx="528.2" cy="369.0" r="7.8" fill="#000000"/>
<circle cx="424.1" cy="161.5" r="7.8" fill="#ff0000"/><circle cx="463.7" cy="240.5" r="7.8" fill="#ff0000"/><circle cx="486.6" cy="287.0" r="7.8" fill="#ff0000"/><circle cx="504.8" cy="323.5" r="7.8" fill="#ff0000"/>
<circle cx="528.0" cy="374.2" r="7.8" fill="#00ff00"/>
<circle cx="424.1" cy="164.0" r="7.8" fill="#ff8000"/><circle cx="463.7" cy="242.5" r="7.8" fill="#ff8000"/><circle cx="486.6" cy="289.5" r="7.8" fill="#ff8000"/><circle cx="504.5" cy="325.5" r="7.8" fill="#ff8000"/><circle cx="611.6" cy="449.7" r="7.8" fill="#ff8000"/>
<circle cx="424.1" cy="170.7" r="8.05" fill="#0000ff"/><circle cx="463.7" cy="244.1" r="8.05" fill="#0000ff"/><circle cx="486.4" cy="293.0" r="8.05" fill="#0000ff"/><circle cx="503.7" cy="329.1" r="8.05" fill="#0000ff"/><circle cx="516.5" cy="352.4" r="8.05" fill="#0000ff"/><circle cx="528.0" cy="371.4" r="8.05" fill="#0000ff"/><circle cx="537.3" cy="387.7" r="8.05" fill="#0000ff"/><circle cx="571.7" cy="429.2" r="8.05" fill="#0000ff"/><circle cx="583.2" cy="438.6" r="8.05" fill="#0000ff"/><circle cx="599.2" cy="447.9" r="8.05" fill="#0000ff"/><circle cx="610.9" cy="452.3" r="8.05" fill="#0000ff"/><circle cx="622.8" cy="454.7" r="8.05" fill="#0000ff"/><circle cx="629.3" cy="456.9" r="8.05" fill="#0000ff"/><circle cx="640.8" cy="459.3" r="8.05" fill="#0000ff"/><circle cx="647.4" cy="459.9" r="8.05" fill="#0000ff"/><circle cx="655.0" cy="461.5" r="8.05" fill="#0000ff"/><circle cx="661.6" cy="461.5" r="8.05" fill="#0000ff"/><circle cx="668.8" cy="461.5" r="8.05" fill="#0000ff"/><circle cx="676.0" cy="461.5" r="8.05" fill="#0000ff"/><circle cx="682.6" cy="463.7" r="8.05" fill="#0000ff"/><circle cx="687.5" cy="463.7" r="8.05" fill="#0000ff"/><circle cx="692.3" cy="463.7" r="8.05" fill="#0000ff"/><circle cx="699.5" cy="463.7" r="8.05" fill="#0000ff"/><circle cx="704.3" cy="463.7" r="8.05" fill="#0000ff"/><circle cx="709.1" cy="463.7" r="8.05" fill="#0000ff"/><circle cx="713.9" cy="463.7" r="8.05" fill="#0000ff"/><circle cx="718.7" cy="463.7" r="8.05" fill="#0000ff"/><circle cx="723.0" cy="463.7" r="8.05" fill="#0000ff"/><circle cx="727.0" cy="463.7" r="8.05" fill="#0000ff"/><circle cx="731.0" cy="463.7" r="8.05" fill="#0000ff"/><circle cx="735.0" cy="463.7" r="8.05" fill="#0000ff"/><circle cx="739.0" cy="463.7" r="8.05" fill="#0000ff"/><circle cx="743.0" cy="463.7" r="8.05" fill="#0000ff"/><circle cx="747.0" cy="466.4" r="8.05" fill="#0000ff"/><circle cx="751.0" cy="466.4" r="8.05" fill="#0000ff"/><circle cx="755.0" cy="466.4" r="8.05" fill="#0000ff"/><circle cx="759.0" cy="466.4" r="8.05" fill="#0000ff"/><circle cx="763.0" cy="466.4" r="8.05" fill="#0000ff"/><circle cx="767.0" cy="466.4" r="8.05" fill="#0000ff"/><circle cx="771.0" cy="466.4" r="8.05" fill="#0000ff"/><circle cx="774.3" cy="466.4" r="8.05" fill="#0000ff"/>
<rect x="85.5" y="0.6" width="733.2" height="489.5" fill="none" stroke="#000" stroke-width="2.7"/>
<g stroke="#000" stroke-width="2.3">
<line x1="86.70" y1="481.67" x2="91.25" y2="481.67"/>
<line x1="86.70" y1="466.00" x2="94.75" y2="466.00"/>
<line x1="86.70" y1="450.33" x2="91.25" y2="450.33"/>
<line x1="86.70" y1="434.66" x2="91.25" y2="434.66"/>
<line x1="86.70" y1="418.99" x2="91.25" y2="418.99"/>
<line x1="86.70" y1="403.32" x2="91.25" y2="403.32"/>
<line x1="86.70" y1="387.65" x2="94.75" y2="387.65"/>
<line x1="86.70" y1="371.98" x2="91.25" y2="371.98"/>
<line x1="86.70" y1="356.31" x2="91.25" y2="356.31"/>
<line x1="86.70" y1="340.64" x2="91.25" y2="340.64"/>
<line x1="86.70" y1="324.97" x2="91.25" y2="324.97"/>
<line x1="86.70" y1="309.30" x2="94.75" y2="309.30"/>
<line x1="86.70" y1="293.63" x2="91.25" y2="293.63"/>
<line x1="86.70" y1="277.96" x2="91.25" y2="277.96"/>
<line x1="86.70" y1="262.29" x2="91.25" y2="262.29"/>
<line x1="86.70" y1="246.62" x2="91.25" y2="246.62"/>
<line x1="86.70" y1="230.95" x2="94.75" y2="230.95"/>
<line x1="86.70" y1="215.28" x2="91.25" y2="215.28"/>
<line x1="86.70" y1="199.61" x2="91.25" y2="199.61"/>
<line x1="86.70" y1="183.94" x2="91.25" y2="183.94"/>
<line x1="86.70" y1="168.27" x2="91.25" y2="168.27"/>
<line x1="86.70" y1="152.60" x2="94.75" y2="152.60"/>
<line x1="86.70" y1="136.93" x2="91.25" y2="136.93"/>
<line x1="86.70" y1="121.26" x2="91.25" y2="121.26"/>
<line x1="86.70" y1="105.59" x2="91.25" y2="105.59"/>
<line x1="86.70" y1="89.92" x2="91.25" y2="89.92"/>
<line x1="86.70" y1="74.25" x2="94.75" y2="74.25"/>
<line x1="86.70" y1="58.58" x2="91.25" y2="58.58"/>
<line x1="86.70" y1="42.91" x2="91.25" y2="42.91"/>
<line x1="86.70" y1="27.24" x2="91.25" y2="27.24"/>
<line x1="86.70" y1="11.57" x2="91.25" y2="11.57"/>
</g>
<g stroke-width="3.9" fill="none">
<line x1="666" y1="53.90" x2="710.4" y2="53.90" stroke="#000000"/>
<line x1="666" y1="102.48" x2="710.4" y2="102.48" stroke="#ff0000"/>
<line x1="666" y1="151.06" x2="710.4" y2="151.06" stroke="#00ff00"/>
<line x1="666" y1="199.64" x2="710.4" y2="199.64" stroke="#808080"/>
<line x1="666" y1="248.22" x2="710.4" y2="248.22" stroke="#ff8000"/>
<line x1="666" y1="296.80" x2="710.4" y2="296.80" stroke="#0000ff"/>
</g>
<g font-family="Liberation Sans, sans-serif" font-size="29" fill="#000" stroke="#000" stroke-width="0.4" stroke-linejoin="round">
<text transform="translate(730.30,64.40) scale(1,1.04)" text-anchor="start"><tspan font-style="italic">ξ</tspan><tspan dy="1.3">=</tspan><tspan dy="-1.3">0</tspan></text>
<text transform="translate(730.30,112.98) scale(1,1.04)" text-anchor="start"><tspan font-style="italic">ξ</tspan><tspan dy="1.3">=</tspan><tspan dy="-1.3">0.1</tspan></text>
<text transform="translate(730.30,161.56) scale(1,1.04)" text-anchor="start"><tspan font-style="italic">ξ</tspan><tspan dy="1.3">=</tspan><tspan dy="-1.3">0.2</tspan></text>
<text transform="translate(730.30,210.14) scale(1,1.04)" text-anchor="start"><tspan font-style="italic">ξ</tspan><tspan dy="1.3">=</tspan><tspan dy="-1.3">0.3</tspan></text>
<text transform="translate(730.30,258.72) scale(1,1.04)" text-anchor="start"><tspan font-style="italic">ξ</tspan><tspan dy="1.3">=</tspan><tspan dy="-1.3">0.4</tspan></text>
<text transform="translate(730.30,307.30) scale(1,1.04)" text-anchor="start"><tspan font-style="italic">ξ</tspan><tspan dy="1.3">=</tspan><tspan dy="-1.3">0.5</tspan></text>
<text transform="translate(79.00,476.60) scale(1,1.04)" text-anchor="end">0</text>
<text transform="translate(79.00,398.25) scale(1,1.04)" text-anchor="end">1</text>
<text transform="translate(79.00,319.90) scale(1,1.04)" text-anchor="end">2</text>
<text transform="translate(79.00,241.55) scale(1,1.04)" text-anchor="end">3</text>
<text transform="translate(79.00,163.20) scale(1,1.04)" text-anchor="end">4</text>
<text transform="translate(79.00,84.85) scale(1,1.04)" text-anchor="end">5</text>
<text transform="translate(132.20,526.80) scale(1,1.04)" text-anchor="middle">0.001</text>
<text transform="translate(266.40,526.80) scale(1,1.04)" text-anchor="middle">0.010</text>
<text transform="translate(400.60,526.80) scale(1,1.04)" text-anchor="middle">0.100</text>
<text transform="translate(534.80,526.80) scale(1,1.04)" text-anchor="middle">1</text>
<text transform="translate(670.50,526.80) scale(1,1.04)" text-anchor="middle">10</text>
<text transform="translate(803.20,526.80) scale(1,1.04)" text-anchor="middle">100</text>
</g>
<g fill="#000" stroke="#000" stroke-width="0.25">
<text x="393.2" y="576.8" font-family="Liberation Sans, sans-serif" font-size="29" font-style="italic">p</text>
<text x="408.9" y="565.2" font-family="Liberation Sans, sans-serif" font-size="19.5">2</text>
<text x="429.7" y="577.6" font-family="Liberation Serif, serif" font-size="31">GeV</text>
<text x="487.7" y="568.8" font-family="Liberation Serif, serif" font-size="19.5">2</text>
<path d="M430.60,551.70 Q416.00,570.05 430.60,588.40 L431.50,588.40 Q421.10,570.05 431.50,551.70Z"/>
<path d="M503.50,551.70 Q518.90,570.05 503.50,588.40 L502.60,588.40 Q513.80,570.05 502.60,551.70Z"/>
</g>
<g fill="#000" stroke="#000" stroke-width="0.3" transform="translate(37.3,287) rotate(-90)">
<text transform="translate(-0.6,0) scale(0.92,1)" x="0" y="0" font-family="Liberation Sans, sans-serif" font-size="32" font-style="italic">G</text>
<text x="22.6" y="4.4" font-family="Liberation Sans, sans-serif" font-size="22.5" font-style="italic">T</text>
<text x="47.8" y="0" font-family="Liberation Sans, sans-serif" font-size="32" font-style="italic">p</text>
<text x="64.2" y="-12.6" font-family="Liberation Sans, sans-serif" font-size="22.5">2</text>
<path d="M45.60,-26.30 Q30.20,-7.85 45.60,10.60 L46.50,10.60 Q35.50,-7.85 46.50,-26.30Z"/>
<path d="M77.40,-26.30 Q92.60,-7.85 77.40,10.60 L76.50,10.60 Q87.30,-7.85 76.50,-26.30Z"/>
</g>
</svg>
</body></html>
